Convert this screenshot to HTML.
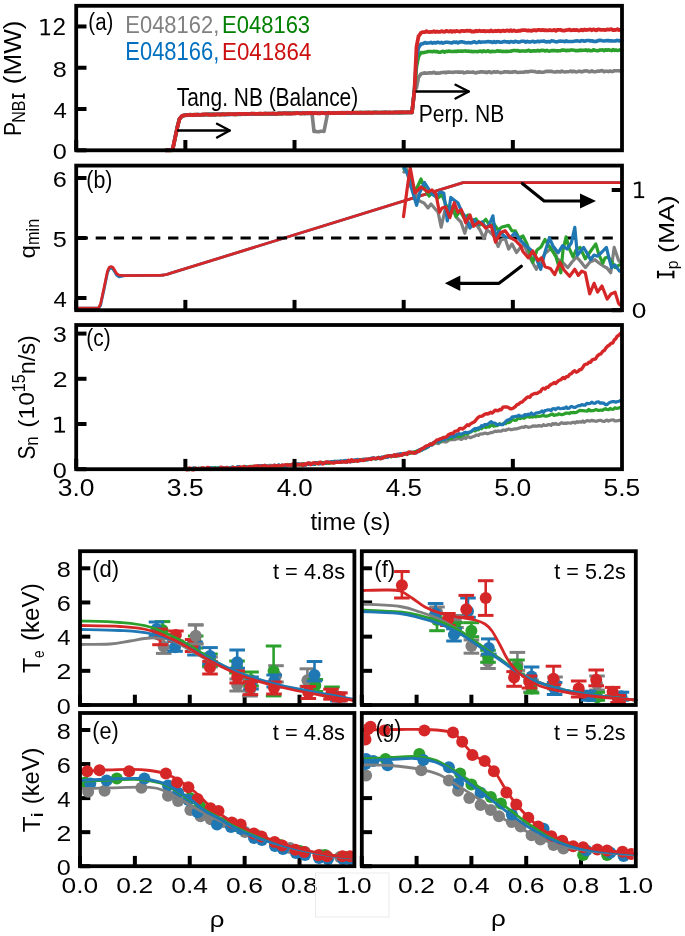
<!DOCTYPE html>
<html><head><meta charset="utf-8"><style>html,body{margin:0;padding:0;background:#fff;overflow:hidden}svg{display:block}text{font-family:"Liberation Sans",sans-serif} .tx{opacity:0.999;will-change:transform}</style></head>
<body><svg width="685" height="936" viewBox="0 0 685 936" font-family='"Liberation Sans", sans-serif'>
<defs><clipPath id="cg"><rect x="363.7" y="715" width="270" height="149"/></clipPath></defs>
<rect width="685" height="936" fill="#fff"/>
<polyline points="166.00,150.19 167.62,150.09 169.25,150.39 170.88,150.04 172.50,150.32 174.00,143.07 175.50,135.73 177.60,126.00 179.50,118.72 182.00,115.96 184.00,115.24 186.00,114.75 187.56,114.92 189.11,115.13 190.67,114.67 192.22,114.70 193.78,114.91 195.33,115.07 196.89,114.81 198.44,114.67 200.00,114.99 201.51,114.41 203.03,114.88 204.54,114.52 206.05,114.41 207.57,114.38 209.08,114.47 210.59,114.76 212.11,114.36 213.62,114.58 215.14,114.59 216.65,114.42 218.16,114.50 219.68,114.19 221.19,114.17 222.70,114.24 224.22,114.51 225.73,114.33 227.24,114.25 228.76,114.39 230.27,114.29 231.78,114.18 233.30,114.46 234.81,114.38 236.32,114.09 237.84,114.27 239.35,114.22 240.86,114.41 242.38,114.31 243.89,114.02 245.41,114.42 246.92,113.88 248.43,114.05 249.95,114.23 251.46,113.85 252.97,114.03 254.49,113.74 256.00,114.10 257.51,114.14 259.03,114.01 260.54,114.17 262.05,113.81 263.57,114.02 265.08,113.94 266.59,113.92 268.11,113.82 269.62,114.03 271.14,114.08 272.65,113.78 274.16,113.87 275.68,113.49 277.19,113.86 278.70,113.80 280.22,113.99 281.73,113.87 283.24,113.53 284.76,113.57 286.27,113.72 287.78,113.32 289.30,113.56 290.81,113.37 292.32,113.32 293.84,113.26 295.35,113.67 296.86,113.27 298.38,113.32 299.89,113.39 301.41,113.66 302.92,113.16 304.43,113.36 305.95,113.41 307.46,113.59 308.97,113.53 310.49,113.54 312.00,113.17 314.00,131.45 315.67,131.42 317.33,131.73 319.00,131.77 320.67,131.29 322.33,131.31 324.00,131.34 325.85,122.09 327.70,113.00 412.00,112.40 412.00,112.40 414.50,90.10 416.50,87.74 418.50,77.45 421.00,73.91 423.00,73.26 425.00,72.87 426.50,73.28 428.01,72.98 429.51,72.78 431.02,72.87 432.52,72.93 434.02,72.23 435.53,73.14 437.03,73.00 438.53,73.09 440.04,72.99 441.54,72.53 443.05,72.52 444.55,72.19 446.05,72.76 447.56,72.11 449.06,72.10 450.56,72.25 452.07,72.18 453.57,72.36 455.08,72.03 456.58,71.96 458.08,72.11 459.59,72.05 461.09,72.32 462.60,71.93 464.10,72.85 465.60,72.55 467.11,72.03 468.61,72.13 470.11,72.22 471.62,72.22 473.12,71.95 474.63,72.73 476.13,72.88 477.63,72.28 479.14,72.29 480.64,71.84 482.15,71.84 483.65,72.09 485.15,71.99 486.66,72.60 488.16,71.85 489.66,71.68 491.17,72.69 492.67,72.21 494.18,71.78 495.68,72.20 497.18,71.62 498.69,72.16 500.19,72.64 501.69,72.50 503.20,72.30 504.70,71.81 506.21,71.91 507.71,71.68 509.21,72.33 510.72,72.05 512.22,72.31 513.73,71.80 515.23,71.67 516.73,72.30 518.24,72.48 519.74,72.32 521.24,72.26 522.75,72.26 524.25,72.16 525.76,71.58 527.26,71.89 528.76,71.69 530.27,71.32 531.77,71.31 533.27,71.57 534.78,71.53 536.28,71.99 537.79,72.27 539.29,71.70 540.79,72.22 542.30,72.27 543.80,72.22 545.31,71.55 546.81,71.38 548.31,71.37 549.82,71.33 551.32,71.32 552.82,71.77 554.33,72.06 555.83,71.98 557.34,71.57 558.84,71.75 560.34,71.89 561.85,71.09 563.35,71.71 564.85,71.97 566.36,71.82 567.86,71.77 569.37,71.46 570.87,71.11 572.37,71.77 573.88,71.26 575.38,71.76 576.89,71.93 578.39,71.28 579.89,71.28 581.40,71.86 582.90,71.60 584.40,70.98 585.91,70.92 587.41,70.93 588.92,71.75 590.42,71.63 591.92,70.89 593.43,71.62 594.93,71.78 596.44,71.41 597.94,71.06 599.44,71.26 600.95,70.79 602.45,70.64 603.95,71.68 605.46,71.32 606.96,71.17 608.47,71.60 609.97,71.04 611.47,71.51 612.98,71.44 614.48,70.75 615.98,70.78 617.49,70.81 618.99,70.74 620.50,71.11 622.00,71.00" fill="none" stroke="#7f7f7f" stroke-width="3.6" stroke-linejoin="round" stroke-linecap="round" />
<polyline points="166.00,150.16 167.62,150.25 169.25,150.08 170.88,150.55 172.50,150.21 174.00,143.12 175.50,136.05 177.60,126.24 179.50,118.95 182.00,116.25 184.00,115.50 186.00,115.02 187.56,114.98 189.11,114.64 190.67,114.86 192.22,114.68 193.78,114.54 195.33,114.98 196.89,114.57 198.44,114.72 200.00,114.84 201.52,114.71 203.03,114.55 204.55,114.64 206.06,114.64 207.58,114.76 209.09,114.33 210.61,114.58 212.12,114.37 213.64,114.36 215.15,114.64 216.67,114.45 218.18,114.46 219.70,114.56 221.21,114.63 222.73,114.33 224.24,114.40 225.76,114.32 227.27,114.30 228.79,114.38 230.30,114.22 231.82,114.24 233.33,114.19 234.85,114.44 236.36,114.27 237.88,114.36 239.39,114.37 240.91,113.94 242.42,114.10 243.94,114.31 245.45,114.22 246.97,113.78 248.48,113.75 250.00,113.92 251.52,113.67 253.03,113.75 254.55,113.63 256.06,113.96 257.58,114.01 259.09,114.05 260.61,113.58 262.12,113.90 263.64,113.84 265.15,113.51 266.67,113.93 268.18,113.96 269.70,113.49 271.21,113.90 272.73,113.55 274.24,113.58 275.76,113.86 277.27,113.74 278.79,113.32 280.30,113.45 281.82,113.48 283.33,113.35 284.85,113.24 286.36,113.30 287.88,113.52 289.39,113.07 290.91,113.37 292.42,113.28 293.94,113.00 295.45,113.17 296.97,113.32 298.48,113.23 300.00,112.94 301.51,113.48 303.03,113.35 304.54,113.45 306.05,112.92 307.57,113.01 309.08,112.86 310.59,113.29 312.11,112.98 313.62,112.88 315.14,113.05 316.65,113.33 318.16,113.26 319.68,112.91 321.19,112.84 322.70,113.29 324.22,113.07 325.73,113.14 327.24,112.76 328.76,112.73 330.27,113.10 331.78,112.93 333.30,112.71 334.81,113.21 336.32,113.02 337.84,113.11 339.35,112.67 340.86,113.12 342.38,112.64 343.89,113.10 345.41,112.85 346.92,112.77 348.43,112.89 349.95,113.10 351.46,112.69 352.97,112.60 354.49,112.83 356.00,112.64 357.51,112.55 359.03,112.58 360.54,112.50 362.05,112.58 363.57,112.63 365.08,112.62 366.59,112.88 368.11,112.59 369.62,112.70 371.14,112.50 372.65,112.59 374.16,112.38 375.68,112.51 377.19,112.36 378.70,112.78 380.22,112.66 381.73,112.43 383.24,112.59 384.76,112.86 386.27,112.35 387.78,112.76 389.30,112.52 390.81,112.55 392.32,112.74 393.84,112.47 395.35,112.52 396.86,112.62 398.38,112.79 399.89,112.39 401.41,112.68 402.92,112.59 404.43,112.54 405.95,112.39 407.46,112.34 408.97,112.15 410.49,112.19 412.00,112.40 414.50,90.26 416.50,66.73 418.50,56.63 421.00,52.54 423.00,52.78 425.00,52.21 426.50,51.97 428.01,51.53 429.51,51.48 431.02,51.52 432.52,51.69 434.02,51.34 435.53,51.64 437.03,51.43 438.53,52.18 440.04,52.18 441.54,51.70 443.05,51.35 444.55,52.13 446.05,51.40 447.56,51.44 449.06,51.03 450.56,51.44 452.07,51.52 453.57,51.54 455.08,51.20 456.58,51.52 458.08,50.95 459.59,51.22 461.09,51.02 462.60,51.35 464.10,50.94 465.60,50.90 467.11,51.20 468.61,51.11 470.11,51.48 471.62,51.41 473.12,51.64 474.63,51.52 476.13,51.57 477.63,51.74 479.14,51.18 480.64,51.10 482.15,51.81 483.65,50.88 485.15,51.50 486.66,51.39 488.16,50.72 489.66,51.58 491.17,51.63 492.67,51.32 494.18,51.43 495.68,51.50 497.18,50.74 498.69,51.15 500.19,51.12 501.69,51.47 503.20,51.42 504.70,51.43 506.21,51.15 507.71,51.48 509.21,51.23 510.72,51.23 512.22,50.71 513.73,50.47 515.23,50.57 516.73,50.81 518.24,50.51 519.74,51.30 521.24,50.98 522.75,51.05 524.25,51.03 525.76,51.08 527.26,50.85 528.76,50.31 530.27,51.17 531.77,51.10 533.27,50.81 534.78,50.84 536.28,50.96 537.79,50.29 539.29,51.02 540.79,50.47 542.30,50.26 543.80,50.46 545.31,50.95 546.81,50.36 548.31,50.94 549.82,51.18 551.32,50.64 552.82,50.50 554.33,50.60 555.83,50.81 557.34,50.88 558.84,50.71 560.34,50.72 561.85,50.08 563.35,50.15 564.85,50.25 566.36,50.78 567.86,50.28 569.37,50.56 570.87,49.93 572.37,49.97 573.88,50.19 575.38,50.62 576.89,50.62 578.39,50.59 579.89,50.15 581.40,50.39 582.90,50.32 584.40,50.31 585.91,49.91 587.41,50.75 588.92,49.97 590.42,50.81 591.92,50.75 593.43,49.73 594.93,50.20 596.44,50.59 597.94,50.73 599.44,50.15 600.95,49.94 602.45,49.86 603.95,50.66 605.46,49.83 606.96,50.23 608.47,49.73 609.97,50.14 611.47,50.59 612.98,49.68 614.48,50.42 615.98,50.06 617.49,50.47 618.99,50.25 620.50,49.72 622.00,50.00" fill="none" stroke="#2ca02c" stroke-width="3.6" stroke-linejoin="round" stroke-linecap="round" />
<polyline points="166.00,150.54 167.62,150.29 169.25,150.01 170.88,150.00 172.50,150.30 174.00,143.12 175.50,135.88 177.60,125.78 179.50,118.91 182.00,115.89 184.00,115.70 186.00,114.70 187.56,115.12 189.11,115.14 190.67,114.67 192.22,115.12 193.78,114.96 195.33,115.04 196.89,114.64 198.44,114.66 200.00,114.64 201.52,114.98 203.03,114.71 204.55,114.55 206.06,114.57 207.58,114.45 209.09,114.29 210.61,114.30 212.12,114.72 213.64,114.37 215.15,114.73 216.67,114.30 218.18,114.29 219.70,114.41 221.21,114.20 222.73,114.28 224.24,114.61 225.76,114.54 227.27,114.48 228.79,114.35 230.30,114.49 231.82,114.49 233.33,114.23 234.85,114.31 236.36,113.88 237.88,114.27 239.39,114.08 240.91,114.24 242.42,114.15 243.94,113.91 245.45,113.75 246.97,114.25 248.48,113.75 250.00,113.93 251.52,113.83 253.03,113.78 254.55,114.03 256.06,114.14 257.58,113.69 259.09,113.91 260.61,113.67 262.12,113.80 263.64,113.68 265.15,113.52 266.67,113.50 268.18,113.50 269.70,113.90 271.21,113.63 272.73,113.44 274.24,113.83 275.76,113.86 277.27,113.51 278.79,113.30 280.30,113.31 281.82,113.23 283.33,113.36 284.85,113.18 286.36,113.25 287.88,113.24 289.39,113.40 290.91,113.57 292.42,113.46 293.94,113.24 295.45,113.22 296.97,113.26 298.48,113.15 300.00,113.10 301.51,112.93 303.03,113.04 304.54,113.45 306.05,112.93 307.57,113.15 309.08,113.21 310.59,113.34 312.11,112.94 313.62,112.97 315.14,112.94 316.65,113.02 318.16,113.04 319.68,113.33 321.19,113.26 322.70,113.26 324.22,112.74 325.73,112.74 327.24,113.13 328.76,113.23 330.27,112.97 331.78,113.03 333.30,112.66 334.81,112.89 336.32,113.20 337.84,113.13 339.35,113.13 340.86,113.19 342.38,112.75 343.89,112.65 345.41,112.67 346.92,112.88 348.43,112.96 349.95,113.11 351.46,112.97 352.97,112.91 354.49,112.97 356.00,112.77 357.51,112.82 359.03,112.50 360.54,112.94 362.05,112.60 363.57,113.00 365.08,112.82 366.59,112.61 368.11,112.49 369.62,112.55 371.14,112.77 372.65,112.80 374.16,112.44 375.68,112.40 377.19,112.66 378.70,112.69 380.22,112.56 381.73,112.45 383.24,112.67 384.76,112.30 386.27,112.46 387.78,112.55 389.30,112.84 390.81,112.64 392.32,112.77 393.84,112.51 395.35,112.36 396.86,112.36 398.38,112.77 399.89,112.61 401.41,112.36 402.92,112.18 404.43,112.45 405.95,112.55 407.46,112.38 408.97,112.28 410.49,112.51 412.00,112.40 414.50,89.70 416.50,57.49 418.50,47.82 421.00,43.91 423.00,43.60 425.00,42.47 426.50,43.11 428.01,43.03 429.51,42.75 431.02,42.41 432.52,43.23 434.02,42.49 435.53,43.03 437.03,42.37 438.53,42.34 440.04,42.92 441.54,42.39 443.05,43.10 444.55,42.58 446.05,42.22 447.56,42.24 449.06,42.44 450.56,42.70 452.07,42.99 453.57,42.09 455.08,42.35 456.58,42.13 458.08,42.95 459.59,42.02 461.09,41.90 462.60,41.90 464.10,42.25 465.60,42.78 467.11,42.75 468.61,42.57 470.11,42.84 471.62,42.75 473.12,42.07 474.63,41.90 476.13,42.71 477.63,42.48 479.14,41.68 480.64,42.36 482.15,42.03 483.65,42.01 485.15,41.94 486.66,41.75 488.16,41.55 489.66,41.84 491.17,41.90 492.67,42.55 494.18,41.61 495.68,42.52 497.18,41.67 498.69,41.82 500.19,42.31 501.69,42.30 503.20,41.85 504.70,41.41 506.21,41.86 507.71,41.74 509.21,42.32 510.72,41.51 512.22,41.68 513.73,42.25 515.23,41.28 516.73,41.68 518.24,42.10 519.74,42.04 521.24,41.22 522.75,41.20 524.25,41.21 525.76,42.14 527.26,41.39 528.76,41.91 530.27,42.06 531.77,41.43 533.27,41.34 534.78,42.08 536.28,41.69 537.79,41.28 539.29,41.76 540.79,41.31 542.30,41.24 543.80,40.93 545.31,41.74 546.81,41.90 548.31,41.57 549.82,41.89 551.32,40.87 552.82,41.08 554.33,41.33 555.83,41.84 557.34,41.82 558.84,41.18 560.34,41.01 561.85,41.19 563.35,41.25 564.85,41.71 566.36,40.87 567.86,41.54 569.37,41.45 570.87,41.53 572.37,41.45 573.88,41.26 575.38,40.93 576.89,40.91 578.39,40.94 579.89,41.38 581.40,40.59 582.90,40.70 584.40,41.30 585.91,40.73 587.41,40.51 588.92,40.46 590.42,41.01 591.92,40.74 593.43,41.45 594.93,41.32 596.44,41.42 597.94,40.61 599.44,40.39 600.95,40.39 602.45,40.82 603.95,41.03 605.46,40.73 606.96,40.48 608.47,40.66 609.97,40.87 611.47,40.91 612.98,40.97 614.48,41.07 615.98,40.85 617.49,40.23 618.99,41.01 620.50,40.39 622.00,40.60" fill="none" stroke="#1f77b4" stroke-width="3.6" stroke-linejoin="round" stroke-linecap="round" />
<polyline points="166.00,150.34 167.62,150.22 169.25,150.44 170.88,150.12 172.50,150.15 174.00,143.00 175.50,135.79 177.60,126.23 179.50,119.05 182.00,115.90 184.00,115.44 186.00,115.30 187.56,114.97 189.11,114.77 190.67,115.09 192.22,114.96 193.78,115.13 195.33,114.56 196.89,114.75 198.44,114.92 200.00,114.90 201.52,114.93 203.03,114.38 204.55,114.51 206.06,114.38 207.58,114.40 209.09,114.85 210.61,114.59 212.12,114.78 213.64,114.42 215.15,114.69 216.67,114.42 218.18,114.28 219.70,114.57 221.21,114.65 222.73,114.12 224.24,114.39 225.76,114.39 227.27,114.12 228.79,114.19 230.30,114.03 231.82,114.05 233.33,114.05 234.85,114.24 236.36,114.25 237.88,113.95 239.39,113.82 240.91,113.98 242.42,114.17 243.94,113.85 245.45,113.91 246.97,113.82 248.48,114.15 250.00,113.98 251.52,113.67 253.03,113.67 254.55,113.82 256.06,113.89 257.58,113.92 259.09,113.57 260.61,113.59 262.12,113.89 263.64,113.69 265.15,113.59 266.67,113.58 268.18,113.95 269.70,113.54 271.21,113.67 272.73,113.52 274.24,113.54 275.76,113.78 277.27,113.84 278.79,113.44 280.30,113.31 281.82,113.61 283.33,113.27 284.85,113.13 286.36,113.65 287.88,113.34 289.39,113.55 290.91,113.28 292.42,113.54 293.94,113.27 295.45,113.07 296.97,112.95 298.48,113.25 300.00,113.28 301.51,113.44 303.03,112.93 304.54,113.24 306.05,113.08 307.57,113.15 309.08,112.92 310.59,112.99 312.11,113.13 313.62,113.36 315.14,112.86 316.65,113.08 318.16,113.25 319.68,113.34 321.19,112.87 322.70,112.81 324.22,113.29 325.73,113.30 327.24,113.00 328.76,112.73 330.27,113.24 331.78,112.91 333.30,113.20 334.81,113.02 336.32,113.14 337.84,112.73 339.35,113.09 340.86,112.74 342.38,112.84 343.89,113.09 345.41,113.07 346.92,112.67 348.43,112.68 349.95,112.78 351.46,112.84 352.97,112.75 354.49,112.58 356.00,112.65 357.51,112.92 359.03,113.02 360.54,112.49 362.05,112.79 363.57,112.90 365.08,112.46 366.59,112.93 368.11,112.48 369.62,112.76 371.14,112.72 372.65,112.76 374.16,112.55 375.68,112.61 377.19,112.70 378.70,112.59 380.22,112.72 381.73,112.58 383.24,112.57 384.76,112.31 386.27,112.66 387.78,112.57 389.30,112.40 390.81,112.71 392.32,112.71 393.84,112.50 395.35,112.33 396.86,112.49 398.38,112.26 399.89,112.26 401.41,112.43 402.92,112.22 404.43,112.42 405.95,112.45 407.46,112.16 408.97,112.50 410.49,112.16 412.00,112.40 414.50,90.31 416.50,46.81 418.50,36.31 421.00,32.80 423.00,32.07 425.00,32.10 426.50,31.18 428.01,31.96 429.51,32.10 431.02,31.79 432.52,31.87 434.02,31.17 435.53,32.02 437.03,31.47 438.53,31.96 440.04,31.90 441.54,31.06 443.05,31.73 444.55,31.88 446.05,30.91 447.56,31.21 449.06,31.64 450.56,30.97 452.07,31.76 453.57,31.06 455.08,31.64 456.58,30.89 458.08,31.27 459.59,31.71 461.09,30.91 462.60,30.96 464.10,31.21 465.60,30.99 467.11,30.66 468.61,30.81 470.11,30.77 471.62,31.61 473.12,31.31 474.63,31.53 476.13,30.72 477.63,31.38 479.14,30.63 480.64,31.07 482.15,31.17 483.65,30.85 485.15,31.40 486.66,31.03 488.16,31.05 489.66,31.36 491.17,30.49 492.67,31.46 494.18,31.04 495.68,30.77 497.18,31.19 498.69,30.59 500.19,31.38 501.69,30.91 503.20,30.65 504.70,31.08 506.21,30.71 507.71,30.40 509.21,31.01 510.72,30.23 512.22,31.07 513.73,30.43 515.23,30.84 516.73,31.20 518.24,30.75 519.74,30.82 521.24,30.42 522.75,30.06 524.25,30.08 525.76,30.19 527.26,30.69 528.76,30.47 530.27,30.55 531.77,30.95 533.27,30.10 534.78,30.19 536.28,30.64 537.79,29.93 539.29,29.89 540.79,30.26 542.30,29.98 543.80,30.24 545.31,30.08 546.81,30.46 548.31,30.45 549.82,30.01 551.32,30.45 552.82,30.27 554.33,29.89 555.83,30.75 557.34,29.97 558.84,29.86 560.34,29.78 561.85,30.36 563.35,30.60 564.85,30.49 566.36,30.06 567.86,29.89 569.37,29.60 570.87,30.28 572.37,30.17 573.88,29.92 575.38,30.23 576.89,30.00 578.39,30.52 579.89,30.28 581.40,29.74 582.90,30.44 584.40,29.48 585.91,30.00 587.41,29.85 588.92,29.65 590.42,29.43 591.92,30.21 593.43,29.35 594.93,29.93 596.44,30.34 597.94,29.45 599.44,29.50 600.95,29.93 602.45,29.81 603.95,29.94 605.46,30.11 606.96,29.39 608.47,29.53 609.97,29.50 611.47,29.21 612.98,30.12 614.48,29.99 615.98,29.90 617.49,29.10 618.99,30.01 620.50,29.88 622.00,29.60" fill="none" stroke="#d62728" stroke-width="3.8" stroke-linejoin="round" stroke-linecap="round" />
<polyline points="78.00,308.20 98.50,308.20 100.50,305.60 104.00,289.60 107.50,272.60 109.30,268.80 111.00,268.20 112.80,268.90 114.50,271.60 116.50,275.10 119.00,276.80 125.00,275.60 150.00,275.40 160.00,275.30 164.00,275.00 167.00,274.30 170.00,273.40 174.00,272.20 463.00,182.60 622.00,182.60" fill="none" stroke="#1f77b4" stroke-width="2.8" stroke-linejoin="round" stroke-linecap="round" />
<polyline points="78.00,308.20 98.50,308.20 100.50,304.00 104.00,288.00 107.50,271.00 109.30,267.20 111.00,266.60 112.80,267.30 114.50,270.00 116.50,273.50 119.00,275.20 125.00,275.60 150.00,275.40 160.00,275.30 164.00,275.00 167.00,274.30 170.00,273.40 174.00,272.20 463.00,182.60 622.00,182.60" fill="none" stroke="#d62728" stroke-width="2.8" stroke-linejoin="round" stroke-linecap="round" />
<line x1="77.60" y1="238.00" x2="620.00" y2="238.00" stroke="#000" stroke-width="3.0" stroke-dasharray="10.3 7.8"/>
<polyline points="404.00,172.00 406.00,168.00 411.40,187.80 415.00,192.00 419.30,200.90 424.00,203.00 428.00,207.90 431.00,204.00 435.00,208.80 438.00,212.00 441.20,227.20 445.00,210.00 449.00,214.00 452.60,210.50 457.00,218.00 461.00,222.00 464.80,233.30 468.00,222.00 472.00,226.00 476.00,224.00 480.00,230.00 484.00,238.60 487.00,230.00 490.00,232.00 494.00,236.00 498.10,246.50 501.00,240.00 505.00,238.00 508.60,249.10 512.00,244.00 516.50,252.60 520.00,248.00 524.00,244.80 530.00,258.00 536.30,269.30 541.00,260.00 545.00,253.50 549.00,250.00 552.90,247.40 557.30,258.80 562.00,262.00 567.80,267.60 572.00,262.00 576.60,257.00 581.00,262.00 585.30,267.60 590.00,262.00 595.00,259.70 599.00,263.00 602.90,265.80 607.00,268.00 610.70,272.80 614.20,247.40 618.60,260.50 620.00,262.00" fill="none" stroke="#7f7f7f" stroke-width="3.2" stroke-linejoin="round" stroke-linecap="round" />
<polyline points="404.00,169.00 408.00,172.00 412.00,185.00 416.00,190.00 421.00,179.00 425.00,189.00 429.00,196.00 433.00,192.00 437.70,198.30 442.00,194.80 446.00,205.00 450.00,210.00 453.00,206.00 456.00,216.70 460.00,211.00 464.00,218.00 468.00,215.00 472.00,221.00 476.00,219.00 480.00,225.00 485.80,219.30 490.00,226.00 494.00,224.00 498.00,230.00 502.00,227.00 508.60,225.40 512.00,231.00 515.30,230.80 519.00,238.00 523.00,236.00 527.00,244.00 532.80,262.30 537.00,250.00 541.00,247.00 545.00,239.50 549.00,246.00 552.90,251.80 556.00,257.00 560.80,272.80 563.00,250.00 566.10,236.90 569.00,248.00 573.10,257.00 576.00,250.00 580.10,247.40 585.30,258.80 590.00,252.00 595.80,243.90 599.00,255.00 602.90,263.20 605.00,258.00 608.10,257.00 612.00,262.00 615.10,267.60 619.50,264.90" fill="none" stroke="#2ca02c" stroke-width="3.2" stroke-linejoin="round" stroke-linecap="round" />
<polyline points="404.00,167.60 408.00,175.00 412.00,190.00 416.60,205.30 420.00,192.00 424.50,182.50 428.00,188.00 432.00,194.00 436.00,197.00 440.00,192.00 443.80,193.00 447.30,221.00 450.80,197.40 454.00,200.00 457.80,202.70 462.00,212.00 466.00,218.00 470.00,228.10 474.00,220.00 478.00,224.00 482.00,222.00 486.00,228.00 489.00,225.00 492.90,215.80 495.50,236.80 499.00,231.00 502.00,234.00 505.10,236.80 510.00,237.80 515.00,233.00 520.00,240.00 525.00,245.00 531.00,250.00 536.00,258.00 540.70,269.30 545.00,252.00 549.40,237.80 553.00,246.00 558.20,252.70 562.60,245.70 567.00,249.00 571.30,243.00 574.80,227.30 577.40,255.30 580.00,252.00 583.60,247.40 587.00,253.00 590.60,259.70 594.00,255.00 597.60,256.20 602.00,252.00 606.40,247.40 609.00,258.00 611.60,267.60 615.00,265.00 619.50,271.10" fill="none" stroke="#1f77b4" stroke-width="3.2" stroke-linejoin="round" stroke-linecap="round" />
<polyline points="403.50,216.70 407.00,190.00 410.20,167.60 412.50,180.00 414.90,193.00 418.00,190.00 421.00,187.00 424.50,189.50 428.00,192.00 432.00,190.00 435.90,193.90 439.40,212.30 442.00,208.00 445.60,207.00 449.90,217.60 454.30,202.70 457.80,212.30 461.30,209.70 465.70,222.80 470.00,214.90 473.60,226.30 478.80,221.90 482.00,224.00 485.80,228.10 491.10,225.40 495.50,242.10 500.70,232.40 505.10,230.70 510.40,237.70 515.30,240.40 520.50,245.70 523.10,251.80 528.40,257.90 532.80,250.90 538.00,260.50 541.50,257.90 545.00,266.70 550.30,268.40 554.70,274.60 559.90,262.30 564.00,270.00 569.60,276.30 574.80,269.30 578.30,275.40 581.80,271.10 585.30,272.80 589.70,293.80 594.10,283.30 597.60,292.10 602.00,286.00 607.20,299.10 611.00,294.00 615.10,292.10 618.60,303.50 620.00,305.00" fill="none" stroke="#d62728" stroke-width="3.2" stroke-linejoin="round" stroke-linecap="round" />
<polyline points="522.30,183.60 544.10,201.00 582.00,201.00" fill="none" stroke="#000" stroke-width="3.2" stroke-linejoin="round" stroke-linecap="round" />
<polygon points="580,193.6 596,201 580,208.5" fill="#000"/>
<polyline points="521.30,266.30 499.00,283.30 458.00,283.30" fill="none" stroke="#000" stroke-width="3.2" stroke-linejoin="round" stroke-linecap="round" />
<polygon points="460.3,275.5 444.9,283.3 460.3,291" fill="#000"/>
<polyline points="186.40,468.94 187.90,469.40 189.41,468.85 190.91,468.40 192.41,468.15 193.92,468.35 195.42,467.96 196.92,468.46 198.43,469.17 199.93,469.04 201.43,469.28 202.94,469.00 204.44,468.16 205.94,468.65 207.45,468.40 208.95,469.00 210.46,468.49 211.96,467.99 213.46,468.63 214.97,469.18 216.47,467.80 217.97,468.96 219.48,467.37 220.98,467.78 222.48,467.70 223.99,468.58 225.49,468.90 226.99,468.51 228.50,467.72 230.00,468.68 231.52,467.62 233.05,467.39 234.57,468.52 236.10,467.95 237.62,467.99 239.14,467.87 240.67,468.36 242.19,467.37 243.71,467.97 245.24,467.64 246.76,467.86 248.29,467.03 249.81,467.48 251.33,467.13 252.86,466.58 254.38,466.34 255.90,467.01 257.43,465.95 258.95,467.38 260.48,465.93 262.00,465.65 263.52,465.72 265.05,467.13 266.57,466.01 268.10,465.57 269.62,465.29 271.14,465.25 272.67,466.35 274.19,466.17 275.71,466.21 277.24,466.21 278.76,464.93 280.29,465.81 281.81,465.33 283.33,466.07 284.86,466.00 286.38,466.06 287.90,464.50 289.43,465.88 290.95,465.89 292.48,465.87 294.00,464.29 295.51,464.36 297.03,464.09 298.54,463.84 300.05,465.19 301.57,465.02 303.08,464.59 304.59,464.83 306.11,464.37 307.62,463.64 309.14,463.20 310.65,463.09 312.16,464.17 313.68,463.06 315.19,463.16 316.70,463.24 318.22,462.41 319.73,462.72 321.24,462.66 322.76,463.33 324.27,462.60 325.78,462.41 327.30,463.46 328.81,462.52 330.32,463.04 331.84,462.51 333.35,461.34 334.86,461.92 336.38,461.86 337.89,462.36 339.41,461.48 340.92,462.02 342.43,461.61 343.95,460.92 345.46,461.98 346.97,460.48 348.49,461.68 350.00,460.41 351.50,459.95 353.00,460.16 354.50,461.02 356.00,461.26 357.50,459.36 359.00,460.08 360.50,459.93 362.00,460.33 363.50,459.08 365.00,459.49 366.50,459.07 368.00,459.80 369.50,458.62 371.00,459.70 372.50,458.36 374.00,458.09 375.50,458.81 377.00,458.30 378.50,457.45 380.00,458.25 381.57,456.98 383.15,457.98 384.72,457.55 386.29,457.45 387.87,456.90 389.44,456.14 391.01,455.96 392.59,455.68 394.16,456.30 395.73,454.59 397.31,455.77 398.88,453.95 400.45,454.00 402.03,453.84 403.60,454.72 405.20,453.75 406.80,453.28 408.40,453.94 410.00,452.52 411.50,452.68 413.00,452.56 414.50,452.71 416.00,452.46 417.50,451.60 419.00,450.39 420.50,449.69 422.00,448.71 423.50,449.28 425.00,448.29 426.72,447.64 428.44,445.81 430.16,445.49 431.88,445.29 433.60,444.14 435.24,442.98 436.88,443.23 438.52,443.64 440.16,442.13 441.80,441.69 443.44,441.54 445.08,441.92 446.72,441.82 448.36,440.23 450.00,439.88 451.56,439.77 453.13,439.64 454.69,439.72 456.25,438.80 457.82,438.83 459.38,438.30 460.95,439.45 462.51,438.73 464.07,437.33 465.64,438.61 467.20,436.78 468.80,436.95 470.40,437.70 472.00,437.02 473.60,436.57 475.20,435.70 476.80,434.93 478.40,435.39 480.00,434.09 481.51,433.96 483.03,433.98 484.54,433.04 486.06,433.39 487.57,433.79 489.09,433.31 490.60,432.65 492.11,432.58 493.63,431.97 495.14,431.08 496.66,431.61 498.17,430.94 499.69,431.24 501.20,431.23 502.71,430.15 504.21,430.19 505.72,430.28 507.23,429.47 508.74,428.90 510.24,429.57 511.75,429.63 513.26,429.22 514.76,428.87 516.27,428.92 517.78,428.39 519.29,428.10 520.79,427.54 522.30,427.06 523.81,427.48 525.33,426.38 526.84,426.81 528.36,427.31 529.87,427.03 531.39,426.73 532.90,425.90 534.41,426.06 535.93,425.97 537.44,426.12 538.96,425.59 540.47,425.92 541.99,426.22 543.50,424.73 545.01,425.42 546.53,425.49 548.04,424.63 549.56,424.65 551.07,425.37 552.59,423.53 554.10,424.28 555.61,423.43 557.13,424.39 558.64,424.52 560.16,423.61 561.67,422.70 563.19,423.39 564.70,423.17 566.21,423.37 567.71,422.88 569.22,422.99 570.73,423.21 572.24,422.53 573.74,422.21 575.25,423.06 576.76,421.61 578.26,422.34 579.77,421.69 581.28,422.24 582.79,420.96 584.29,422.39 585.80,421.14 587.31,420.54 588.83,420.88 590.34,421.05 591.86,420.30 593.37,420.97 594.89,420.91 596.40,421.36 597.91,420.68 599.43,420.46 600.94,420.33 602.46,421.21 603.97,421.51 605.49,420.71 607.00,420.09 608.56,421.11 610.11,420.34 611.67,419.98 613.22,419.80 614.78,420.93 616.33,420.96 617.89,420.61 619.44,420.28 621.00,420.30" fill="none" stroke="#7f7f7f" stroke-width="3.2" stroke-linejoin="round" stroke-linecap="round" />
<polyline points="186.40,469.11 187.90,468.47 189.41,469.77 190.91,468.63 192.41,469.11 193.92,469.40 195.42,469.36 196.92,468.70 198.43,468.35 199.93,468.78 201.43,467.98 202.94,469.22 204.44,468.32 205.94,469.18 207.45,468.10 208.95,468.26 210.46,468.00 211.96,468.28 213.46,467.81 214.97,467.45 216.47,468.71 217.97,467.88 219.48,467.78 220.98,467.85 222.48,468.14 223.99,468.01 225.49,468.35 226.99,468.36 228.50,467.79 230.00,468.77 231.52,468.57 233.05,467.06 234.57,468.38 236.10,468.44 237.62,468.15 239.14,466.92 240.67,468.10 242.19,467.67 243.71,466.48 245.24,466.41 246.76,468.03 248.29,467.42 249.81,466.62 251.33,466.28 252.86,466.29 254.38,466.38 255.90,467.28 257.43,466.44 258.95,466.02 260.48,467.30 262.00,467.03 263.52,465.83 265.05,467.06 266.57,466.48 268.10,466.72 269.62,466.45 271.14,466.78 272.67,466.52 274.19,466.54 275.71,465.31 277.24,466.13 278.76,465.77 280.29,466.08 281.81,465.46 283.33,466.19 284.86,465.53 286.38,464.93 287.90,464.81 289.43,464.57 290.95,465.13 292.48,464.28 294.00,464.94 295.51,464.25 297.03,464.77 298.54,464.67 300.05,464.64 301.57,465.11 303.08,463.46 304.59,464.86 306.11,464.08 307.62,464.14 309.14,464.22 310.65,464.42 312.16,463.48 313.68,463.45 315.19,464.32 316.70,462.61 318.22,463.52 319.73,463.41 321.24,462.21 322.76,463.14 324.27,463.17 325.78,463.51 327.30,462.32 328.81,463.38 330.32,462.42 331.84,462.27 333.35,462.90 334.86,461.24 336.38,462.37 337.89,462.09 339.41,461.47 340.92,462.30 342.43,461.30 343.95,461.39 345.46,461.37 346.97,461.70 348.49,460.59 350.00,460.88 351.50,460.71 353.00,460.80 354.50,461.14 356.00,460.03 357.50,460.84 359.00,459.93 360.50,459.96 362.00,459.39 363.50,459.66 365.00,460.35 366.50,459.63 368.00,459.73 369.50,458.75 371.00,458.57 372.50,458.39 374.00,458.76 375.50,458.69 377.00,458.81 378.50,457.32 380.00,458.40 381.57,458.43 383.15,457.55 384.72,456.39 386.29,456.57 387.87,455.78 389.44,455.84 391.01,456.89 392.59,456.06 394.16,455.88 395.73,455.85 397.31,455.80 398.88,455.00 400.45,454.74 402.03,454.49 403.60,454.35 405.20,453.92 406.80,453.83 408.40,452.73 410.00,453.30 411.50,452.67 413.00,452.97 414.50,451.53 416.00,451.43 417.50,450.50 419.00,451.16 420.50,450.75 422.00,449.61 423.50,448.43 425.00,448.58 426.72,447.52 428.44,446.11 430.16,444.56 431.88,443.64 433.60,442.86 435.24,442.17 436.88,441.88 438.52,441.76 440.16,441.78 441.80,439.70 443.44,440.12 445.08,438.67 446.72,438.31 448.36,439.06 450.00,438.14 451.56,438.40 453.13,437.19 454.69,436.06 456.25,436.38 457.82,436.39 459.38,436.66 460.95,436.38 462.51,435.12 464.07,434.65 465.64,433.74 467.20,434.36 468.80,432.87 470.40,432.05 472.00,431.09 473.60,430.36 475.20,430.87 476.80,429.14 478.40,429.95 480.00,427.66 481.51,428.77 483.03,427.13 484.54,426.63 486.06,427.59 487.57,426.44 489.09,427.02 490.60,425.74 492.11,425.19 493.63,426.19 495.14,425.78 496.66,425.74 498.17,425.21 499.69,423.75 501.20,424.43 502.71,424.12 504.21,423.21 505.72,423.61 507.23,421.93 508.74,422.75 510.24,421.85 511.75,420.12 513.26,419.67 514.76,420.36 516.27,420.20 517.78,418.41 519.29,418.37 520.79,418.67 522.30,417.20 523.81,418.30 525.33,417.48 526.84,416.56 528.36,416.96 529.87,417.18 531.39,416.79 532.90,417.07 534.41,415.96 535.93,416.99 537.44,416.05 538.96,416.41 540.47,416.23 541.99,415.70 543.50,415.49 545.01,416.07 546.53,416.20 548.04,415.76 549.56,415.22 551.07,414.58 552.59,414.01 554.10,415.50 555.61,414.87 557.13,414.94 558.64,413.90 560.16,414.24 561.67,414.76 563.19,414.35 564.70,413.78 566.21,413.03 567.71,413.01 569.22,413.61 570.73,412.46 572.24,412.79 573.74,412.41 575.25,412.71 576.76,412.32 578.26,411.15 579.77,410.42 581.28,410.66 582.79,410.72 584.29,410.78 585.80,410.97 587.31,411.03 588.83,409.43 590.34,410.79 591.86,410.68 593.37,410.70 594.89,410.10 596.40,409.49 597.91,410.46 599.43,410.31 600.94,410.02 602.46,410.36 603.97,409.27 605.49,408.72 607.00,409.50 608.56,409.72 610.11,408.44 611.67,409.22 613.22,409.33 614.78,407.87 616.33,408.33 617.89,408.24 619.44,407.65 621.00,407.50" fill="none" stroke="#2ca02c" stroke-width="3.2" stroke-linejoin="round" stroke-linecap="round" />
<polyline points="186.40,468.41 187.90,468.47 189.41,469.43 190.91,469.48 192.41,468.78 193.92,468.00 195.42,469.41 196.92,469.30 198.43,468.19 199.93,468.85 201.43,469.45 202.94,469.39 204.44,468.63 205.94,468.50 207.45,468.70 208.95,467.86 210.46,467.83 211.96,467.78 213.46,468.78 214.97,468.07 216.47,468.44 217.97,468.08 219.48,468.28 220.98,467.50 222.48,467.26 223.99,469.13 225.49,467.85 226.99,467.28 228.50,468.30 230.00,468.57 231.52,467.24 233.05,468.05 234.57,467.48 236.10,467.75 237.62,466.68 239.14,466.64 240.67,468.48 242.19,468.16 243.71,467.33 245.24,467.42 246.76,466.74 248.29,467.70 249.81,466.92 251.33,467.89 252.86,467.46 254.38,467.49 255.90,467.71 257.43,466.22 258.95,465.72 260.48,465.97 262.00,465.86 263.52,465.60 265.05,465.46 266.57,466.40 268.10,466.96 269.62,466.06 271.14,466.97 272.67,466.82 274.19,465.06 275.71,466.05 277.24,465.58 278.76,464.95 280.29,466.56 281.81,465.09 283.33,465.63 284.86,465.71 286.38,466.27 287.90,465.63 289.43,465.00 290.95,465.04 292.48,464.39 294.00,465.93 295.51,465.88 297.03,464.23 298.54,463.75 300.05,464.08 301.57,464.16 303.08,465.16 304.59,465.05 306.11,464.81 307.62,463.12 309.14,464.49 310.65,464.23 312.16,464.00 313.68,464.57 315.19,462.60 316.70,462.67 318.22,463.78 319.73,464.04 321.24,463.41 322.76,462.54 324.27,463.02 325.78,463.25 327.30,461.83 328.81,462.16 330.32,461.92 331.84,461.55 333.35,462.15 334.86,461.42 336.38,461.45 337.89,461.15 339.41,462.11 340.92,460.67 342.43,461.97 343.95,460.82 345.46,460.40 346.97,462.07 348.49,460.55 350.00,461.87 351.50,461.58 353.00,461.48 354.50,459.83 356.00,460.29 357.50,459.44 359.00,460.96 360.50,460.63 362.00,460.06 363.50,459.55 365.00,459.18 366.50,460.00 368.00,459.16 369.50,459.31 371.00,458.19 372.50,458.19 374.00,457.71 375.50,458.88 377.00,458.41 378.50,457.44 380.00,458.74 381.57,457.27 383.15,457.29 384.72,456.51 386.29,456.48 387.87,457.35 389.44,456.07 391.01,455.47 392.59,455.85 394.16,455.24 395.73,456.14 397.31,454.30 398.88,455.76 400.45,453.65 402.03,455.06 403.60,454.34 405.20,453.17 406.80,453.45 408.40,452.82 410.00,452.52 411.50,452.15 413.00,452.23 414.50,453.23 416.00,453.00 417.50,452.18 419.00,449.86 420.50,449.58 422.00,450.13 423.50,447.78 425.00,448.45 426.72,446.59 428.44,446.96 430.16,444.03 431.88,444.61 433.60,442.68 435.24,441.68 436.88,440.80 438.52,441.86 440.16,440.65 441.80,439.37 443.44,439.27 445.08,439.62 446.72,437.64 448.36,437.74 450.00,436.28 451.56,435.95 453.13,436.72 454.69,436.20 456.25,434.76 457.82,434.11 459.38,433.72 460.95,434.35 462.51,433.72 464.07,432.87 465.64,432.32 467.20,432.72 468.80,432.28 470.40,431.85 472.00,430.75 473.60,429.35 475.20,428.44 476.80,429.14 478.40,427.85 480.00,427.84 481.50,425.66 483.00,426.32 484.50,424.52 486.00,424.68 487.68,424.25 489.35,423.04 491.02,421.61 492.70,422.92 494.85,423.00 497.00,424.74 499.10,424.18 501.20,424.67 503.13,424.53 505.07,422.17 507.00,420.33 508.73,419.69 510.45,419.09 512.17,416.86 513.90,416.84 515.48,416.42 517.07,416.30 518.65,415.24 520.23,416.16 521.82,416.10 523.40,415.93 524.98,414.58 526.57,415.09 528.15,414.16 529.73,414.64 531.32,412.99 532.90,414.35 534.41,414.21 535.93,412.99 537.44,412.73 538.96,412.46 540.47,412.17 541.99,410.84 543.50,412.43 545.01,410.65 546.53,410.26 548.04,409.81 549.56,409.80 551.07,410.63 552.59,408.76 554.10,408.59 555.61,409.58 557.13,408.36 558.64,407.79 560.16,408.74 561.67,408.48 563.19,408.16 564.70,408.31 566.21,407.02 567.73,408.47 569.24,408.08 570.76,406.65 572.27,406.72 573.79,407.37 575.30,407.30 576.94,406.38 578.59,405.59 580.23,405.68 581.88,404.66 583.52,405.09 585.17,405.16 586.81,403.25 588.46,403.62 590.10,403.49 591.78,402.13 593.46,403.25 595.14,403.28 596.82,401.98 598.50,401.84 600.20,403.10 601.90,402.89 603.60,403.05 605.30,404.56 607.00,404.65 608.67,403.08 610.33,402.18 612.00,401.67 613.87,401.50 615.73,402.23 617.60,401.51 619.30,401.28 621.00,400.00" fill="none" stroke="#1f77b4" stroke-width="3.2" stroke-linejoin="round" stroke-linecap="round" />
<polyline points="186.40,469.69 187.90,469.73 189.41,467.95 190.91,468.93 192.41,469.87 193.92,469.78 195.42,468.24 196.92,468.59 198.43,469.02 199.93,468.39 201.43,468.72 202.94,467.67 204.44,468.44 205.94,468.56 207.45,467.46 208.95,467.69 210.46,469.48 211.96,469.02 213.46,469.34 214.97,468.64 216.47,468.99 217.97,469.12 219.48,469.09 220.98,467.18 222.48,468.48 223.99,467.62 225.49,468.50 226.99,467.57 228.50,468.13 230.00,468.93 231.52,468.20 233.05,467.31 234.57,467.83 236.10,467.57 237.62,468.63 239.14,467.10 240.67,467.07 242.19,467.75 243.71,466.52 245.24,467.49 246.76,468.22 248.29,467.17 249.81,466.56 251.33,466.93 252.86,467.00 254.38,466.08 255.90,465.96 257.43,465.90 258.95,466.19 260.48,466.37 262.00,466.03 263.52,465.86 265.05,465.45 266.57,466.39 268.10,466.96 269.62,466.38 271.14,466.23 272.67,466.33 274.19,465.27 275.71,466.32 277.24,465.70 278.76,465.82 280.29,465.89 281.81,465.50 283.33,465.08 284.86,464.86 286.38,464.74 287.90,465.31 289.43,464.96 290.95,465.33 292.48,464.00 294.00,464.68 295.51,465.69 297.03,464.21 298.54,464.80 300.05,464.55 301.57,463.99 303.08,465.42 304.59,463.79 306.11,464.73 307.62,463.28 309.14,462.97 310.65,464.63 312.16,463.57 313.68,462.63 315.19,463.24 316.70,463.25 318.22,463.79 319.73,462.30 321.24,462.45 322.76,463.96 324.27,463.36 325.78,461.97 327.30,462.26 328.81,462.19 330.32,462.79 331.84,462.55 333.35,462.96 334.86,462.79 336.38,462.01 337.89,462.39 339.41,462.29 340.92,462.22 342.43,461.49 343.95,462.06 345.46,461.78 346.97,462.13 348.49,460.29 350.00,461.82 351.50,459.76 353.00,461.28 354.50,460.74 356.00,460.40 357.50,461.27 359.00,460.26 360.50,459.77 362.00,460.42 363.50,460.47 365.00,459.74 366.50,459.09 368.00,459.10 369.50,458.96 371.00,459.39 372.50,458.29 374.00,458.36 375.50,458.57 377.00,458.05 378.50,457.76 380.00,458.63 381.57,458.50 383.15,457.47 384.72,457.08 386.29,456.24 387.87,456.24 389.44,455.62 391.01,456.30 392.59,456.05 394.16,454.69 395.73,456.26 397.31,454.68 398.88,455.56 400.45,455.28 402.03,455.28 403.60,453.35 405.20,453.59 406.80,454.40 408.40,452.17 410.00,452.00 411.50,452.89 413.00,452.49 414.50,453.17 416.00,452.60 417.50,451.25 419.00,451.43 420.50,449.54 422.00,448.70 423.50,448.24 425.00,446.76 426.72,445.79 428.44,445.41 430.16,443.97 431.88,444.39 433.60,442.89 435.24,441.71 436.88,439.92 438.52,439.67 440.16,438.88 441.80,438.38 443.44,437.56 445.08,437.39 446.72,436.72 448.36,434.82 450.00,433.87 451.56,433.52 453.13,433.58 454.69,431.39 456.25,431.05 457.82,430.92 459.38,428.75 460.95,428.32 462.51,429.02 464.07,427.93 465.64,426.48 467.20,424.84 468.80,425.46 470.40,423.89 472.00,423.07 473.60,422.33 475.20,420.99 476.80,418.85 478.40,417.16 480.00,416.34 481.50,416.23 483.00,415.61 484.50,414.31 486.00,413.70 487.50,414.09 489.00,413.43 490.50,412.28 492.00,413.09 493.53,411.87 495.07,410.13 496.60,410.51 498.13,410.90 499.67,409.41 501.20,409.82 502.97,407.24 504.73,406.84 506.50,406.95 508.27,407.46 510.03,408.70 511.80,408.73 513.55,407.98 515.30,406.68 517.05,404.64 518.80,404.06 520.55,402.39 522.30,401.99 523.81,400.24 525.33,399.05 526.84,397.58 528.36,396.83 529.87,397.33 531.39,395.06 532.90,394.22 534.41,393.55 535.93,393.49 537.44,393.33 538.96,392.03 540.47,391.63 541.99,389.17 543.50,388.23 545.01,389.06 546.53,387.24 548.04,387.27 549.56,385.64 551.07,384.39 552.59,383.77 554.10,382.57 555.61,383.50 557.13,381.96 558.64,380.61 560.16,380.00 561.67,379.02 563.19,377.46 564.70,378.46 566.38,376.72 568.06,376.49 569.74,374.29 571.42,373.62 573.10,371.75 574.70,370.77 576.30,372.20 577.90,371.51 579.50,369.79 581.08,369.50 582.65,367.74 584.22,365.04 585.80,364.13 587.40,364.03 589.00,362.12 590.60,362.24 592.20,359.80 593.80,359.24 595.40,359.08 597.25,356.14 599.10,354.48 600.95,353.88 602.80,351.17 604.48,350.36 606.16,347.68 607.84,346.04 609.52,344.97 611.20,343.11 612.70,343.14 614.20,339.94 615.70,338.84 617.20,336.15 618.70,335.37 621.00,333.00" fill="none" stroke="#d62728" stroke-width="3.4" stroke-linejoin="round" stroke-linecap="round" />
<rect x="76.2" y="5.8" width="545.80" height="144.50" fill="none" stroke="#000" stroke-width="3.8"/>
<line x1="185.36" y1="150.30" x2="185.36" y2="140.00" stroke="#000" stroke-width="4.0" />
<line x1="294.52" y1="150.30" x2="294.52" y2="140.00" stroke="#000" stroke-width="4.0" />
<line x1="403.68" y1="150.30" x2="403.68" y2="140.00" stroke="#000" stroke-width="4.0" />
<line x1="512.84" y1="150.30" x2="512.84" y2="140.00" stroke="#000" stroke-width="4.0" />
<line x1="76.20" y1="150.30" x2="76.20" y2="140.00" stroke="#000" stroke-width="4.0" />
<rect x="76.2" y="165.6" width="545.80" height="144.60" fill="none" stroke="#000" stroke-width="3.8"/>
<line x1="185.36" y1="310.20" x2="185.36" y2="299.90" stroke="#000" stroke-width="4.0" />
<line x1="294.52" y1="310.20" x2="294.52" y2="299.90" stroke="#000" stroke-width="4.0" />
<line x1="403.68" y1="310.20" x2="403.68" y2="299.90" stroke="#000" stroke-width="4.0" />
<line x1="512.84" y1="310.20" x2="512.84" y2="299.90" stroke="#000" stroke-width="4.0" />
<line x1="76.20" y1="310.20" x2="76.20" y2="299.90" stroke="#000" stroke-width="4.0" />
<rect x="76.2" y="325.0" width="545.80" height="144.20" fill="none" stroke="#000" stroke-width="3.8"/>
<line x1="185.36" y1="469.20" x2="185.36" y2="458.90" stroke="#000" stroke-width="4.0" />
<line x1="294.52" y1="469.20" x2="294.52" y2="458.90" stroke="#000" stroke-width="4.0" />
<line x1="403.68" y1="469.20" x2="403.68" y2="458.90" stroke="#000" stroke-width="4.0" />
<line x1="512.84" y1="469.20" x2="512.84" y2="458.90" stroke="#000" stroke-width="4.0" />
<line x1="76.20" y1="469.20" x2="76.20" y2="458.90" stroke="#000" stroke-width="4.0" />
<line x1="76.20" y1="150.30" x2="86.50" y2="150.30" stroke="#000" stroke-width="4.0" />
<line x1="76.20" y1="109.02" x2="86.50" y2="109.02" stroke="#000" stroke-width="4.0" />
<line x1="76.20" y1="67.74" x2="86.50" y2="67.74" stroke="#000" stroke-width="4.0" />
<line x1="76.20" y1="26.46" x2="86.50" y2="26.46" stroke="#000" stroke-width="4.0" />
<line x1="76.20" y1="298.00" x2="86.50" y2="298.00" stroke="#000" stroke-width="4.0" />
<line x1="76.20" y1="238.00" x2="86.50" y2="238.00" stroke="#000" stroke-width="4.0" />
<line x1="76.20" y1="178.00" x2="86.50" y2="178.00" stroke="#000" stroke-width="4.0" />
<line x1="622.00" y1="310.20" x2="611.70" y2="310.20" stroke="#000" stroke-width="4.0" />
<line x1="622.00" y1="190.00" x2="611.70" y2="190.00" stroke="#000" stroke-width="4.0" />
<line x1="76.20" y1="469.20" x2="86.50" y2="469.20" stroke="#000" stroke-width="4.0" />
<line x1="76.20" y1="424.00" x2="86.50" y2="424.00" stroke="#000" stroke-width="4.0" />
<line x1="76.20" y1="378.80" x2="86.50" y2="378.80" stroke="#000" stroke-width="4.0" />
<line x1="76.20" y1="333.60" x2="86.50" y2="333.60" stroke="#000" stroke-width="4.0" />
<polyline points="178.20,130.50 229.50,130.50" fill="none" stroke="#000" stroke-width="2.4" stroke-linejoin="round" stroke-linecap="round" />
<polyline points="217.00,123.80 229.80,130.50 217.00,137.50" fill="none" stroke="#000" stroke-width="2.4" stroke-linejoin="round" stroke-linecap="round" stroke-linejoin="miter"/>
<polyline points="416.60,91.50 468.50,91.50" fill="none" stroke="#000" stroke-width="2.4" stroke-linejoin="round" stroke-linecap="round" />
<polyline points="455.50,84.70 468.80,91.50 455.50,98.50" fill="none" stroke="#000" stroke-width="2.4" stroke-linejoin="round" stroke-linecap="round" />
<line x1="80.00" y1="705.00" x2="80.00" y2="694.70" stroke="#000" stroke-width="4.0" />
<line x1="134.88" y1="705.00" x2="134.88" y2="694.70" stroke="#000" stroke-width="4.0" />
<line x1="189.76" y1="705.00" x2="189.76" y2="694.70" stroke="#000" stroke-width="4.0" />
<line x1="244.64" y1="705.00" x2="244.64" y2="694.70" stroke="#000" stroke-width="4.0" />
<line x1="299.52" y1="705.00" x2="299.52" y2="694.70" stroke="#000" stroke-width="4.0" />
<line x1="80.00" y1="705.00" x2="90.30" y2="705.00" stroke="#000" stroke-width="4.0" />
<line x1="80.00" y1="670.82" x2="90.30" y2="670.82" stroke="#000" stroke-width="4.0" />
<line x1="80.00" y1="636.64" x2="90.30" y2="636.64" stroke="#000" stroke-width="4.0" />
<line x1="80.00" y1="602.47" x2="90.30" y2="602.47" stroke="#000" stroke-width="4.0" />
<line x1="80.00" y1="568.29" x2="90.30" y2="568.29" stroke="#000" stroke-width="4.0" />
<line x1="80.00" y1="866.20" x2="80.00" y2="855.90" stroke="#000" stroke-width="4.0" />
<line x1="134.88" y1="866.20" x2="134.88" y2="855.90" stroke="#000" stroke-width="4.0" />
<line x1="189.76" y1="866.20" x2="189.76" y2="855.90" stroke="#000" stroke-width="4.0" />
<line x1="244.64" y1="866.20" x2="244.64" y2="855.90" stroke="#000" stroke-width="4.0" />
<line x1="299.52" y1="866.20" x2="299.52" y2="855.90" stroke="#000" stroke-width="4.0" />
<line x1="80.00" y1="866.20" x2="90.30" y2="866.20" stroke="#000" stroke-width="4.0" />
<line x1="80.00" y1="832.16" x2="90.30" y2="832.16" stroke="#000" stroke-width="4.0" />
<line x1="80.00" y1="798.11" x2="90.30" y2="798.11" stroke="#000" stroke-width="4.0" />
<line x1="80.00" y1="764.07" x2="90.30" y2="764.07" stroke="#000" stroke-width="4.0" />
<line x1="80.00" y1="730.02" x2="90.30" y2="730.02" stroke="#000" stroke-width="4.0" />
<line x1="361.80" y1="705.00" x2="361.80" y2="694.70" stroke="#000" stroke-width="4.0" />
<line x1="416.60" y1="705.00" x2="416.60" y2="694.70" stroke="#000" stroke-width="4.0" />
<line x1="471.40" y1="705.00" x2="471.40" y2="694.70" stroke="#000" stroke-width="4.0" />
<line x1="526.20" y1="705.00" x2="526.20" y2="694.70" stroke="#000" stroke-width="4.0" />
<line x1="581.00" y1="705.00" x2="581.00" y2="694.70" stroke="#000" stroke-width="4.0" />
<line x1="361.80" y1="705.00" x2="372.10" y2="705.00" stroke="#000" stroke-width="4.0" />
<line x1="361.80" y1="670.82" x2="372.10" y2="670.82" stroke="#000" stroke-width="4.0" />
<line x1="361.80" y1="636.64" x2="372.10" y2="636.64" stroke="#000" stroke-width="4.0" />
<line x1="361.80" y1="602.47" x2="372.10" y2="602.47" stroke="#000" stroke-width="4.0" />
<line x1="361.80" y1="568.29" x2="372.10" y2="568.29" stroke="#000" stroke-width="4.0" />
<line x1="361.80" y1="866.20" x2="361.80" y2="855.90" stroke="#000" stroke-width="4.0" />
<line x1="416.60" y1="866.20" x2="416.60" y2="855.90" stroke="#000" stroke-width="4.0" />
<line x1="471.40" y1="866.20" x2="471.40" y2="855.90" stroke="#000" stroke-width="4.0" />
<line x1="526.20" y1="866.20" x2="526.20" y2="855.90" stroke="#000" stroke-width="4.0" />
<line x1="581.00" y1="866.20" x2="581.00" y2="855.90" stroke="#000" stroke-width="4.0" />
<line x1="361.80" y1="866.20" x2="372.10" y2="866.20" stroke="#000" stroke-width="4.0" />
<line x1="361.80" y1="832.16" x2="372.10" y2="832.16" stroke="#000" stroke-width="4.0" />
<line x1="361.80" y1="798.11" x2="372.10" y2="798.11" stroke="#000" stroke-width="4.0" />
<line x1="361.80" y1="764.07" x2="372.10" y2="764.07" stroke="#000" stroke-width="4.0" />
<line x1="361.80" y1="730.02" x2="372.10" y2="730.02" stroke="#000" stroke-width="4.0" />
<line x1="163.70" y1="634.40" x2="163.70" y2="653.40" stroke="#7f7f7f" stroke-width="2.6" />
<line x1="155.90" y1="634.40" x2="171.50" y2="634.40" stroke="#7f7f7f" stroke-width="3.0" />
<line x1="155.90" y1="653.40" x2="171.50" y2="653.40" stroke="#7f7f7f" stroke-width="3.0" />
<circle cx="163.7" cy="646.4" r="6.0" fill="#7f7f7f"/>
<line x1="195.70" y1="624.90" x2="195.70" y2="643.90" stroke="#7f7f7f" stroke-width="2.6" />
<line x1="187.90" y1="624.90" x2="203.50" y2="624.90" stroke="#7f7f7f" stroke-width="3.0" />
<line x1="187.90" y1="643.90" x2="203.50" y2="643.90" stroke="#7f7f7f" stroke-width="3.0" />
<circle cx="195.7" cy="635.9" r="6.0" fill="#7f7f7f"/>
<line x1="210.00" y1="657.00" x2="210.00" y2="667.00" stroke="#7f7f7f" stroke-width="2.6" />
<line x1="202.20" y1="657.00" x2="217.80" y2="657.00" stroke="#7f7f7f" stroke-width="3.0" />
<line x1="202.20" y1="667.00" x2="217.80" y2="667.00" stroke="#7f7f7f" stroke-width="3.0" />
<circle cx="210.0" cy="662.0" r="6.0" fill="#7f7f7f"/>
<line x1="237.20" y1="679.00" x2="237.20" y2="691.00" stroke="#7f7f7f" stroke-width="2.6" />
<line x1="229.40" y1="679.00" x2="245.00" y2="679.00" stroke="#7f7f7f" stroke-width="3.0" />
<line x1="229.40" y1="691.00" x2="245.00" y2="691.00" stroke="#7f7f7f" stroke-width="3.0" />
<circle cx="237.2" cy="685.0" r="6.0" fill="#7f7f7f"/>
<line x1="250.00" y1="684.00" x2="250.00" y2="696.00" stroke="#7f7f7f" stroke-width="2.6" />
<line x1="242.20" y1="684.00" x2="257.80" y2="684.00" stroke="#7f7f7f" stroke-width="3.0" />
<line x1="242.20" y1="696.00" x2="257.80" y2="696.00" stroke="#7f7f7f" stroke-width="3.0" />
<circle cx="250.0" cy="690.0" r="6.0" fill="#7f7f7f"/>
<line x1="276.00" y1="665.70" x2="276.00" y2="682.00" stroke="#7f7f7f" stroke-width="2.6" />
<line x1="268.20" y1="665.70" x2="283.80" y2="665.70" stroke="#7f7f7f" stroke-width="3.0" />
<line x1="268.20" y1="682.00" x2="283.80" y2="682.00" stroke="#7f7f7f" stroke-width="3.0" />
<circle cx="276.0" cy="676.0" r="6.0" fill="#7f7f7f"/>
<line x1="307.40" y1="668.80" x2="307.40" y2="686.20" stroke="#7f7f7f" stroke-width="2.6" />
<line x1="299.60" y1="668.80" x2="315.20" y2="668.80" stroke="#7f7f7f" stroke-width="3.0" />
<line x1="299.60" y1="686.20" x2="315.20" y2="686.20" stroke="#7f7f7f" stroke-width="3.0" />
<circle cx="307.4" cy="680.2" r="6.0" fill="#7f7f7f"/>
<line x1="162.50" y1="621.60" x2="162.50" y2="638.00" stroke="#2ca02c" stroke-width="2.6" />
<line x1="154.70" y1="621.60" x2="170.30" y2="621.60" stroke="#2ca02c" stroke-width="3.0" />
<line x1="154.70" y1="638.00" x2="170.30" y2="638.00" stroke="#2ca02c" stroke-width="3.0" />
<circle cx="162.5" cy="630.0" r="6.0" fill="#2ca02c"/>
<line x1="195.70" y1="636.00" x2="195.70" y2="648.00" stroke="#2ca02c" stroke-width="2.6" />
<line x1="187.90" y1="636.00" x2="203.50" y2="636.00" stroke="#2ca02c" stroke-width="3.0" />
<line x1="187.90" y1="648.00" x2="203.50" y2="648.00" stroke="#2ca02c" stroke-width="3.0" />
<circle cx="195.7" cy="642.0" r="6.0" fill="#2ca02c"/>
<line x1="210.00" y1="654.00" x2="210.00" y2="666.00" stroke="#2ca02c" stroke-width="2.6" />
<line x1="202.20" y1="654.00" x2="217.80" y2="654.00" stroke="#2ca02c" stroke-width="3.0" />
<line x1="202.20" y1="666.00" x2="217.80" y2="666.00" stroke="#2ca02c" stroke-width="3.0" />
<circle cx="210.0" cy="660.0" r="6.0" fill="#2ca02c"/>
<line x1="237.00" y1="661.00" x2="237.00" y2="673.00" stroke="#2ca02c" stroke-width="2.6" />
<line x1="229.20" y1="661.00" x2="244.80" y2="661.00" stroke="#2ca02c" stroke-width="3.0" />
<line x1="229.20" y1="673.00" x2="244.80" y2="673.00" stroke="#2ca02c" stroke-width="3.0" />
<circle cx="237.0" cy="667.0" r="6.0" fill="#2ca02c"/>
<line x1="251.00" y1="672.00" x2="251.00" y2="686.00" stroke="#2ca02c" stroke-width="2.6" />
<line x1="243.20" y1="672.00" x2="258.80" y2="672.00" stroke="#2ca02c" stroke-width="3.0" />
<line x1="243.20" y1="686.00" x2="258.80" y2="686.00" stroke="#2ca02c" stroke-width="3.0" />
<circle cx="251.0" cy="680.0" r="6.0" fill="#2ca02c"/>
<line x1="273.60" y1="646.00" x2="273.60" y2="695.90" stroke="#2ca02c" stroke-width="2.6" />
<line x1="265.80" y1="646.00" x2="281.40" y2="646.00" stroke="#2ca02c" stroke-width="3.0" />
<line x1="265.80" y1="695.90" x2="281.40" y2="695.90" stroke="#2ca02c" stroke-width="3.0" />
<circle cx="273.6" cy="670.9" r="6.0" fill="#2ca02c"/>
<line x1="315.30" y1="679.50" x2="315.30" y2="691.50" stroke="#2ca02c" stroke-width="2.6" />
<line x1="307.50" y1="679.50" x2="323.10" y2="679.50" stroke="#2ca02c" stroke-width="3.0" />
<line x1="307.50" y1="691.50" x2="323.10" y2="691.50" stroke="#2ca02c" stroke-width="3.0" />
<circle cx="315.3" cy="685.5" r="6.0" fill="#2ca02c"/>
<line x1="332.00" y1="687.00" x2="332.00" y2="697.00" stroke="#2ca02c" stroke-width="2.6" />
<line x1="324.20" y1="687.00" x2="339.80" y2="687.00" stroke="#2ca02c" stroke-width="3.0" />
<line x1="324.20" y1="697.00" x2="339.80" y2="697.00" stroke="#2ca02c" stroke-width="3.0" />
<circle cx="332.0" cy="692.0" r="6.0" fill="#2ca02c"/>
<line x1="156.50" y1="622.00" x2="156.50" y2="636.00" stroke="#1f77b4" stroke-width="2.6" />
<line x1="148.70" y1="622.00" x2="164.30" y2="622.00" stroke="#1f77b4" stroke-width="3.0" />
<line x1="148.70" y1="636.00" x2="164.30" y2="636.00" stroke="#1f77b4" stroke-width="3.0" />
<circle cx="156.5" cy="629.0" r="6.0" fill="#1f77b4"/>
<line x1="175.00" y1="641.30" x2="175.00" y2="651.30" stroke="#1f77b4" stroke-width="2.6" />
<line x1="167.20" y1="641.30" x2="182.80" y2="641.30" stroke="#1f77b4" stroke-width="3.0" />
<line x1="167.20" y1="651.30" x2="182.80" y2="651.30" stroke="#1f77b4" stroke-width="3.0" />
<circle cx="175.0" cy="647.3" r="6.0" fill="#1f77b4"/>
<line x1="195.00" y1="642.00" x2="195.00" y2="655.00" stroke="#1f77b4" stroke-width="2.6" />
<line x1="187.20" y1="642.00" x2="202.80" y2="642.00" stroke="#1f77b4" stroke-width="3.0" />
<line x1="187.20" y1="655.00" x2="202.80" y2="655.00" stroke="#1f77b4" stroke-width="3.0" />
<circle cx="195.0" cy="648.0" r="6.0" fill="#1f77b4"/>
<line x1="210.00" y1="647.60" x2="210.00" y2="664.00" stroke="#1f77b4" stroke-width="2.6" />
<line x1="202.20" y1="647.60" x2="217.80" y2="647.60" stroke="#1f77b4" stroke-width="3.0" />
<line x1="202.20" y1="664.00" x2="217.80" y2="664.00" stroke="#1f77b4" stroke-width="3.0" />
<circle cx="210.0" cy="656.0" r="6.0" fill="#1f77b4"/>
<line x1="237.20" y1="650.00" x2="237.20" y2="668.20" stroke="#1f77b4" stroke-width="2.6" />
<line x1="229.40" y1="650.00" x2="245.00" y2="650.00" stroke="#1f77b4" stroke-width="3.0" />
<line x1="229.40" y1="668.20" x2="245.00" y2="668.20" stroke="#1f77b4" stroke-width="3.0" />
<circle cx="237.2" cy="662.2" r="6.0" fill="#1f77b4"/>
<line x1="251.00" y1="677.00" x2="251.00" y2="689.00" stroke="#1f77b4" stroke-width="2.6" />
<line x1="243.20" y1="677.00" x2="258.80" y2="677.00" stroke="#1f77b4" stroke-width="3.0" />
<line x1="243.20" y1="689.00" x2="258.80" y2="689.00" stroke="#1f77b4" stroke-width="3.0" />
<circle cx="251.0" cy="683.0" r="6.0" fill="#1f77b4"/>
<line x1="274.20" y1="675.00" x2="274.20" y2="687.00" stroke="#1f77b4" stroke-width="2.6" />
<line x1="266.40" y1="675.00" x2="282.00" y2="675.00" stroke="#1f77b4" stroke-width="3.0" />
<line x1="266.40" y1="687.00" x2="282.00" y2="687.00" stroke="#1f77b4" stroke-width="3.0" />
<circle cx="274.2" cy="681.0" r="6.0" fill="#1f77b4"/>
<line x1="314.50" y1="661.50" x2="314.50" y2="681.00" stroke="#1f77b4" stroke-width="2.6" />
<line x1="306.70" y1="661.50" x2="322.30" y2="661.50" stroke="#1f77b4" stroke-width="3.0" />
<line x1="306.70" y1="681.00" x2="322.30" y2="681.00" stroke="#1f77b4" stroke-width="3.0" />
<circle cx="314.5" cy="675.0" r="6.0" fill="#1f77b4"/>
<line x1="338.00" y1="693.00" x2="338.00" y2="701.00" stroke="#1f77b4" stroke-width="2.6" />
<line x1="330.20" y1="693.00" x2="345.80" y2="693.00" stroke="#1f77b4" stroke-width="3.0" />
<line x1="330.20" y1="701.00" x2="345.80" y2="701.00" stroke="#1f77b4" stroke-width="3.0" />
<circle cx="338.0" cy="697.0" r="6.0" fill="#1f77b4"/>
<line x1="160.00" y1="629.00" x2="160.00" y2="644.70" stroke="#d62728" stroke-width="2.6" />
<line x1="152.20" y1="629.00" x2="167.80" y2="629.00" stroke="#d62728" stroke-width="3.0" />
<line x1="152.20" y1="644.70" x2="167.80" y2="644.70" stroke="#d62728" stroke-width="3.0" />
<circle cx="160.0" cy="635.0" r="6.0" fill="#d62728"/>
<line x1="175.90" y1="631.00" x2="175.90" y2="641.00" stroke="#d62728" stroke-width="2.6" />
<line x1="168.10" y1="631.00" x2="183.70" y2="631.00" stroke="#d62728" stroke-width="3.0" />
<line x1="168.10" y1="641.00" x2="183.70" y2="641.00" stroke="#d62728" stroke-width="3.0" />
<circle cx="175.9" cy="635.0" r="6.0" fill="#d62728"/>
<line x1="192.60" y1="639.50" x2="192.60" y2="651.50" stroke="#d62728" stroke-width="2.6" />
<line x1="184.80" y1="639.50" x2="200.40" y2="639.50" stroke="#d62728" stroke-width="3.0" />
<line x1="184.80" y1="651.50" x2="200.40" y2="651.50" stroke="#d62728" stroke-width="3.0" />
<circle cx="192.6" cy="645.5" r="6.0" fill="#d62728"/>
<line x1="210.00" y1="661.40" x2="210.00" y2="674.00" stroke="#d62728" stroke-width="2.6" />
<line x1="202.20" y1="661.40" x2="217.80" y2="661.40" stroke="#d62728" stroke-width="3.0" />
<line x1="202.20" y1="674.00" x2="217.80" y2="674.00" stroke="#d62728" stroke-width="3.0" />
<circle cx="210.0" cy="667.4" r="6.0" fill="#d62728"/>
<line x1="237.20" y1="671.00" x2="237.20" y2="683.00" stroke="#d62728" stroke-width="2.6" />
<line x1="229.40" y1="671.00" x2="245.00" y2="671.00" stroke="#d62728" stroke-width="3.0" />
<line x1="229.40" y1="683.00" x2="245.00" y2="683.00" stroke="#d62728" stroke-width="3.0" />
<circle cx="237.2" cy="677.0" r="6.0" fill="#d62728"/>
<line x1="250.40" y1="681.60" x2="250.40" y2="694.60" stroke="#d62728" stroke-width="2.6" />
<line x1="242.60" y1="681.60" x2="258.20" y2="681.60" stroke="#d62728" stroke-width="3.0" />
<line x1="242.60" y1="694.60" x2="258.20" y2="694.60" stroke="#d62728" stroke-width="3.0" />
<circle cx="250.4" cy="687.6" r="6.0" fill="#d62728"/>
<line x1="274.00" y1="682.00" x2="274.00" y2="694.00" stroke="#d62728" stroke-width="2.6" />
<line x1="266.20" y1="682.00" x2="281.80" y2="682.00" stroke="#d62728" stroke-width="3.0" />
<line x1="266.20" y1="694.00" x2="281.80" y2="694.00" stroke="#d62728" stroke-width="3.0" />
<circle cx="274.0" cy="688.0" r="6.0" fill="#d62728"/>
<line x1="308.30" y1="686.50" x2="308.30" y2="698.50" stroke="#d62728" stroke-width="2.6" />
<line x1="300.50" y1="686.50" x2="316.10" y2="686.50" stroke="#d62728" stroke-width="3.0" />
<line x1="300.50" y1="698.50" x2="316.10" y2="698.50" stroke="#d62728" stroke-width="3.0" />
<circle cx="308.3" cy="692.5" r="6.0" fill="#d62728"/>
<line x1="331.00" y1="689.20" x2="331.00" y2="699.20" stroke="#d62728" stroke-width="2.6" />
<line x1="323.20" y1="689.20" x2="338.80" y2="689.20" stroke="#d62728" stroke-width="3.0" />
<line x1="323.20" y1="699.20" x2="338.80" y2="699.20" stroke="#d62728" stroke-width="3.0" />
<circle cx="331.0" cy="694.2" r="6.0" fill="#d62728"/>
<line x1="339.90" y1="692.90" x2="339.90" y2="700.90" stroke="#d62728" stroke-width="2.6" />
<line x1="332.10" y1="692.90" x2="347.70" y2="692.90" stroke="#d62728" stroke-width="3.0" />
<line x1="332.10" y1="700.90" x2="347.70" y2="700.90" stroke="#d62728" stroke-width="3.0" />
<circle cx="339.9" cy="696.9" r="6.0" fill="#d62728"/>
<line x1="195.70" y1="624.90" x2="195.70" y2="643.90" stroke="#7f7f7f" stroke-width="2.6" />
<line x1="187.90" y1="624.90" x2="203.50" y2="624.90" stroke="#7f7f7f" stroke-width="3.0" />
<line x1="187.90" y1="643.90" x2="203.50" y2="643.90" stroke="#7f7f7f" stroke-width="3.0" />
<circle cx="195.7" cy="635.9" r="6.0" fill="#7f7f7f"/>
<path d="M80.00,644.50 C85.00,644.42 101.67,644.58 110.00,644.00 C118.33,643.42 123.33,642.00 130.00,641.00 C136.67,640.00 143.33,638.17 150.00,638.00 C156.67,637.83 163.33,638.00 170.00,640.00 C176.67,642.00 183.33,646.50 190.00,650.00 C196.67,653.50 201.67,657.17 210.00,661.00 C218.33,664.83 228.33,668.83 240.00,673.00 C251.67,677.17 266.67,682.50 280.00,686.00 C293.33,689.50 307.67,691.67 320.00,694.00 C332.33,696.33 348.33,699.00 354.00,700.00" fill="none" stroke="#7f7f7f" stroke-width="2.8" stroke-linecap="round"/>
<path d="M80.00,621.00 C86.67,621.25 108.33,621.50 120.00,622.50 C131.67,623.50 140.00,624.08 150.00,627.00 C160.00,629.92 171.67,635.83 180.00,640.00 C188.33,644.17 193.33,648.00 200.00,652.00 C206.67,656.00 212.50,660.00 220.00,664.00 C227.50,668.00 235.00,672.33 245.00,676.00 C255.00,679.67 267.50,683.00 280.00,686.00 C292.50,689.00 307.67,691.67 320.00,694.00 C332.33,696.33 348.33,699.00 354.00,700.00" fill="none" stroke="#2ca02c" stroke-width="2.8" stroke-linecap="round"/>
<path d="M80.00,629.50 C86.67,629.67 108.33,629.83 120.00,630.50 C131.67,631.17 140.00,631.42 150.00,633.50 C160.00,635.58 171.67,639.58 180.00,643.00 C188.33,646.42 193.33,650.50 200.00,654.00 C206.67,657.50 212.50,660.50 220.00,664.00 C227.50,667.50 235.00,671.50 245.00,675.00 C255.00,678.50 267.50,682.00 280.00,685.00 C292.50,688.00 307.67,690.58 320.00,693.00 C332.33,695.42 348.33,698.42 354.00,699.50" fill="none" stroke="#1f77b4" stroke-width="2.8" stroke-linecap="round"/>
<path d="M80.00,625.50 C86.67,625.67 108.33,625.67 120.00,626.50 C131.67,627.33 140.00,627.75 150.00,630.50 C160.00,633.25 171.67,638.92 180.00,643.00 C188.33,647.08 193.33,651.17 200.00,655.00 C206.67,658.83 212.50,662.33 220.00,666.00 C227.50,669.67 235.00,673.50 245.00,677.00 C255.00,680.50 267.50,684.00 280.00,687.00 C292.50,690.00 307.67,692.75 320.00,695.00 C332.33,697.25 348.33,699.58 354.00,700.50" fill="none" stroke="#d62728" stroke-width="2.8" stroke-linecap="round"/>
<line x1="437.00" y1="607.00" x2="437.00" y2="618.00" stroke="#7f7f7f" stroke-width="2.6" />
<line x1="429.20" y1="607.00" x2="444.80" y2="607.00" stroke="#7f7f7f" stroke-width="3.0" />
<line x1="429.20" y1="618.00" x2="444.80" y2="618.00" stroke="#7f7f7f" stroke-width="3.0" />
<circle cx="437.0" cy="612.0" r="6.0" fill="#7f7f7f"/>
<line x1="456.00" y1="615.50" x2="456.00" y2="627.50" stroke="#7f7f7f" stroke-width="2.6" />
<line x1="448.20" y1="615.50" x2="463.80" y2="615.50" stroke="#7f7f7f" stroke-width="3.0" />
<line x1="448.20" y1="627.50" x2="463.80" y2="627.50" stroke="#7f7f7f" stroke-width="3.0" />
<circle cx="456.0" cy="621.5" r="6.0" fill="#7f7f7f"/>
<line x1="471.40" y1="640.00" x2="471.40" y2="653.20" stroke="#7f7f7f" stroke-width="2.6" />
<line x1="463.60" y1="640.00" x2="479.20" y2="640.00" stroke="#7f7f7f" stroke-width="3.0" />
<line x1="463.60" y1="653.20" x2="479.20" y2="653.20" stroke="#7f7f7f" stroke-width="3.0" />
<circle cx="471.4" cy="646.0" r="6.0" fill="#7f7f7f"/>
<line x1="488.00" y1="655.40" x2="488.00" y2="668.50" stroke="#7f7f7f" stroke-width="2.6" />
<line x1="480.20" y1="655.40" x2="495.80" y2="655.40" stroke="#7f7f7f" stroke-width="3.0" />
<line x1="480.20" y1="668.50" x2="495.80" y2="668.50" stroke="#7f7f7f" stroke-width="3.0" />
<circle cx="488.0" cy="661.4" r="6.0" fill="#7f7f7f"/>
<line x1="517.40" y1="652.40" x2="517.40" y2="670.40" stroke="#7f7f7f" stroke-width="2.6" />
<line x1="509.60" y1="652.40" x2="525.20" y2="652.40" stroke="#7f7f7f" stroke-width="3.0" />
<line x1="509.60" y1="670.40" x2="525.20" y2="670.40" stroke="#7f7f7f" stroke-width="3.0" />
<circle cx="517.4" cy="664.4" r="6.0" fill="#7f7f7f"/>
<line x1="531.00" y1="680.00" x2="531.00" y2="692.00" stroke="#7f7f7f" stroke-width="2.6" />
<line x1="523.20" y1="680.00" x2="538.80" y2="680.00" stroke="#7f7f7f" stroke-width="3.0" />
<line x1="523.20" y1="692.00" x2="538.80" y2="692.00" stroke="#7f7f7f" stroke-width="3.0" />
<circle cx="531.0" cy="686.0" r="6.0" fill="#7f7f7f"/>
<line x1="555.00" y1="677.00" x2="555.00" y2="689.00" stroke="#7f7f7f" stroke-width="2.6" />
<line x1="547.20" y1="677.00" x2="562.80" y2="677.00" stroke="#7f7f7f" stroke-width="3.0" />
<line x1="547.20" y1="689.00" x2="562.80" y2="689.00" stroke="#7f7f7f" stroke-width="3.0" />
<circle cx="555.0" cy="683.0" r="6.0" fill="#7f7f7f"/>
<line x1="597.00" y1="676.00" x2="597.00" y2="690.00" stroke="#7f7f7f" stroke-width="2.6" />
<line x1="589.20" y1="676.00" x2="604.80" y2="676.00" stroke="#7f7f7f" stroke-width="3.0" />
<line x1="589.20" y1="690.00" x2="604.80" y2="690.00" stroke="#7f7f7f" stroke-width="3.0" />
<circle cx="597.0" cy="684.0" r="6.0" fill="#7f7f7f"/>
<line x1="437.00" y1="614.00" x2="437.00" y2="630.70" stroke="#2ca02c" stroke-width="2.6" />
<line x1="429.20" y1="614.00" x2="444.80" y2="614.00" stroke="#2ca02c" stroke-width="3.0" />
<line x1="429.20" y1="630.70" x2="444.80" y2="630.70" stroke="#2ca02c" stroke-width="3.0" />
<circle cx="437.0" cy="620.0" r="6.0" fill="#2ca02c"/>
<line x1="456.00" y1="622.70" x2="456.00" y2="634.70" stroke="#2ca02c" stroke-width="2.6" />
<line x1="448.20" y1="622.70" x2="463.80" y2="622.70" stroke="#2ca02c" stroke-width="3.0" />
<line x1="448.20" y1="634.70" x2="463.80" y2="634.70" stroke="#2ca02c" stroke-width="3.0" />
<circle cx="456.0" cy="628.7" r="6.0" fill="#2ca02c"/>
<line x1="471.40" y1="622.70" x2="471.40" y2="636.70" stroke="#2ca02c" stroke-width="2.6" />
<line x1="463.60" y1="622.70" x2="479.20" y2="622.70" stroke="#2ca02c" stroke-width="3.0" />
<line x1="463.60" y1="636.70" x2="479.20" y2="636.70" stroke="#2ca02c" stroke-width="3.0" />
<circle cx="471.4" cy="630.7" r="6.0" fill="#2ca02c"/>
<line x1="488.00" y1="650.30" x2="488.00" y2="662.30" stroke="#2ca02c" stroke-width="2.6" />
<line x1="480.20" y1="650.30" x2="495.80" y2="650.30" stroke="#2ca02c" stroke-width="3.0" />
<line x1="480.20" y1="662.30" x2="495.80" y2="662.30" stroke="#2ca02c" stroke-width="3.0" />
<circle cx="488.0" cy="656.3" r="6.0" fill="#2ca02c"/>
<line x1="517.00" y1="660.00" x2="517.00" y2="674.00" stroke="#2ca02c" stroke-width="2.6" />
<line x1="509.20" y1="660.00" x2="524.80" y2="660.00" stroke="#2ca02c" stroke-width="3.0" />
<line x1="509.20" y1="674.00" x2="524.80" y2="674.00" stroke="#2ca02c" stroke-width="3.0" />
<circle cx="517.0" cy="668.0" r="6.0" fill="#2ca02c"/>
<line x1="531.60" y1="682.50" x2="531.60" y2="693.00" stroke="#2ca02c" stroke-width="2.6" />
<line x1="523.80" y1="682.50" x2="539.40" y2="682.50" stroke="#2ca02c" stroke-width="3.0" />
<line x1="523.80" y1="693.00" x2="539.40" y2="693.00" stroke="#2ca02c" stroke-width="3.0" />
<circle cx="531.6" cy="688.5" r="6.0" fill="#2ca02c"/>
<line x1="597.30" y1="692.30" x2="597.30" y2="700.30" stroke="#2ca02c" stroke-width="2.6" />
<line x1="589.50" y1="692.30" x2="605.10" y2="692.30" stroke="#2ca02c" stroke-width="3.0" />
<line x1="589.50" y1="700.30" x2="605.10" y2="700.30" stroke="#2ca02c" stroke-width="3.0" />
<circle cx="597.3" cy="697.3" r="6.0" fill="#2ca02c"/>
<line x1="435.60" y1="603.50" x2="435.60" y2="619.40" stroke="#1f77b4" stroke-width="2.6" />
<line x1="427.80" y1="603.50" x2="443.40" y2="603.50" stroke="#1f77b4" stroke-width="3.0" />
<line x1="427.80" y1="619.40" x2="443.40" y2="619.40" stroke="#1f77b4" stroke-width="3.0" />
<circle cx="435.6" cy="613.4" r="6.0" fill="#1f77b4"/>
<line x1="454.00" y1="628.80" x2="454.00" y2="641.00" stroke="#1f77b4" stroke-width="2.6" />
<line x1="446.20" y1="628.80" x2="461.80" y2="628.80" stroke="#1f77b4" stroke-width="3.0" />
<line x1="446.20" y1="641.00" x2="461.80" y2="641.00" stroke="#1f77b4" stroke-width="3.0" />
<circle cx="454.0" cy="634.8" r="6.0" fill="#1f77b4"/>
<line x1="468.00" y1="598.00" x2="468.00" y2="617.30" stroke="#1f77b4" stroke-width="2.6" />
<line x1="460.20" y1="598.00" x2="475.80" y2="598.00" stroke="#1f77b4" stroke-width="3.0" />
<line x1="460.20" y1="617.30" x2="475.80" y2="617.30" stroke="#1f77b4" stroke-width="3.0" />
<circle cx="468.0" cy="611.3" r="6.0" fill="#1f77b4"/>
<line x1="488.80" y1="638.90" x2="488.80" y2="654.10" stroke="#1f77b4" stroke-width="2.6" />
<line x1="481.00" y1="638.90" x2="496.60" y2="638.90" stroke="#1f77b4" stroke-width="3.0" />
<line x1="481.00" y1="654.10" x2="496.60" y2="654.10" stroke="#1f77b4" stroke-width="3.0" />
<circle cx="488.8" cy="648.1" r="6.0" fill="#1f77b4"/>
<line x1="531.60" y1="667.00" x2="531.60" y2="682.50" stroke="#1f77b4" stroke-width="2.6" />
<line x1="523.80" y1="667.00" x2="539.40" y2="667.00" stroke="#1f77b4" stroke-width="3.0" />
<line x1="523.80" y1="682.50" x2="539.40" y2="682.50" stroke="#1f77b4" stroke-width="3.0" />
<circle cx="531.6" cy="676.5" r="6.0" fill="#1f77b4"/>
<line x1="554.60" y1="682.50" x2="554.60" y2="694.50" stroke="#1f77b4" stroke-width="2.6" />
<line x1="546.80" y1="682.50" x2="562.40" y2="682.50" stroke="#1f77b4" stroke-width="3.0" />
<line x1="546.80" y1="694.50" x2="562.40" y2="694.50" stroke="#1f77b4" stroke-width="3.0" />
<circle cx="554.6" cy="688.5" r="6.0" fill="#1f77b4"/>
<line x1="588.50" y1="691.20" x2="588.50" y2="700.20" stroke="#1f77b4" stroke-width="2.6" />
<line x1="580.70" y1="691.20" x2="596.30" y2="691.20" stroke="#1f77b4" stroke-width="3.0" />
<line x1="580.70" y1="700.20" x2="596.30" y2="700.20" stroke="#1f77b4" stroke-width="3.0" />
<circle cx="588.5" cy="696.2" r="6.0" fill="#1f77b4"/>
<line x1="621.40" y1="692.20" x2="621.40" y2="700.20" stroke="#1f77b4" stroke-width="2.6" />
<line x1="613.60" y1="692.20" x2="629.20" y2="692.20" stroke="#1f77b4" stroke-width="3.0" />
<line x1="613.60" y1="700.20" x2="629.20" y2="700.20" stroke="#1f77b4" stroke-width="3.0" />
<circle cx="621.4" cy="696.2" r="6.0" fill="#1f77b4"/>
<line x1="401.90" y1="571.50" x2="401.90" y2="598.00" stroke="#d62728" stroke-width="2.6" />
<line x1="394.10" y1="571.50" x2="409.70" y2="571.50" stroke="#d62728" stroke-width="3.0" />
<line x1="394.10" y1="598.00" x2="409.70" y2="598.00" stroke="#d62728" stroke-width="3.0" />
<circle cx="401.9" cy="585.2" r="6.0" fill="#d62728"/>
<line x1="447.90" y1="613.50" x2="447.90" y2="625.50" stroke="#d62728" stroke-width="2.6" />
<line x1="440.10" y1="613.50" x2="455.70" y2="613.50" stroke="#d62728" stroke-width="3.0" />
<line x1="440.10" y1="625.50" x2="455.70" y2="625.50" stroke="#d62728" stroke-width="3.0" />
<circle cx="447.9" cy="619.5" r="6.0" fill="#d62728"/>
<line x1="466.30" y1="595.40" x2="466.30" y2="617.30" stroke="#d62728" stroke-width="2.6" />
<line x1="458.50" y1="595.40" x2="474.10" y2="595.40" stroke="#d62728" stroke-width="3.0" />
<line x1="458.50" y1="617.30" x2="474.10" y2="617.30" stroke="#d62728" stroke-width="3.0" />
<circle cx="466.3" cy="609.3" r="6.0" fill="#d62728"/>
<line x1="485.70" y1="580.70" x2="485.70" y2="615.40" stroke="#d62728" stroke-width="2.6" />
<line x1="477.90" y1="580.70" x2="493.50" y2="580.70" stroke="#d62728" stroke-width="3.0" />
<line x1="477.90" y1="615.40" x2="493.50" y2="615.40" stroke="#d62728" stroke-width="3.0" />
<circle cx="485.7" cy="598.0" r="6.0" fill="#d62728"/>
<line x1="514.10" y1="671.60" x2="514.10" y2="686.30" stroke="#d62728" stroke-width="2.6" />
<line x1="506.30" y1="671.60" x2="521.90" y2="671.60" stroke="#d62728" stroke-width="3.0" />
<line x1="506.30" y1="686.30" x2="521.90" y2="686.30" stroke="#d62728" stroke-width="3.0" />
<circle cx="514.1" cy="677.6" r="6.0" fill="#d62728"/>
<line x1="529.40" y1="676.00" x2="529.40" y2="688.00" stroke="#d62728" stroke-width="2.6" />
<line x1="521.60" y1="676.00" x2="537.20" y2="676.00" stroke="#d62728" stroke-width="3.0" />
<line x1="521.60" y1="688.00" x2="537.20" y2="688.00" stroke="#d62728" stroke-width="3.0" />
<circle cx="529.4" cy="682.0" r="6.0" fill="#d62728"/>
<line x1="553.50" y1="666.20" x2="553.50" y2="684.70" stroke="#d62728" stroke-width="2.6" />
<line x1="545.70" y1="666.20" x2="561.30" y2="666.20" stroke="#d62728" stroke-width="3.0" />
<line x1="545.70" y1="684.70" x2="561.30" y2="684.70" stroke="#d62728" stroke-width="3.0" />
<circle cx="553.5" cy="678.7" r="6.0" fill="#d62728"/>
<line x1="578.70" y1="681.00" x2="578.70" y2="697.00" stroke="#d62728" stroke-width="2.6" />
<line x1="570.90" y1="681.00" x2="586.50" y2="681.00" stroke="#d62728" stroke-width="3.0" />
<line x1="570.90" y1="697.00" x2="586.50" y2="697.00" stroke="#d62728" stroke-width="3.0" />
<circle cx="578.7" cy="688.5" r="6.0" fill="#d62728"/>
<line x1="596.20" y1="670.00" x2="596.20" y2="685.80" stroke="#d62728" stroke-width="2.6" />
<line x1="588.40" y1="670.00" x2="604.00" y2="670.00" stroke="#d62728" stroke-width="3.0" />
<line x1="588.40" y1="685.80" x2="604.00" y2="685.80" stroke="#d62728" stroke-width="3.0" />
<circle cx="596.2" cy="679.8" r="6.0" fill="#d62728"/>
<line x1="612.60" y1="687.40" x2="612.60" y2="695.80" stroke="#d62728" stroke-width="2.6" />
<line x1="604.80" y1="687.40" x2="620.40" y2="687.40" stroke="#d62728" stroke-width="3.0" />
<line x1="604.80" y1="695.80" x2="620.40" y2="695.80" stroke="#d62728" stroke-width="3.0" />
<circle cx="612.6" cy="691.8" r="6.0" fill="#d62728"/>
<line x1="618.10" y1="695.50" x2="618.10" y2="702.50" stroke="#d62728" stroke-width="2.6" />
<line x1="610.30" y1="695.50" x2="625.90" y2="695.50" stroke="#d62728" stroke-width="3.0" />
<line x1="610.30" y1="702.50" x2="625.90" y2="702.50" stroke="#d62728" stroke-width="3.0" />
<circle cx="618.1" cy="699.5" r="6.0" fill="#d62728"/>
<path d="M362.00,604.00 C368.33,604.42 390.33,605.17 400.00,606.50 C409.67,607.83 413.33,609.83 420.00,612.00 C426.67,614.17 433.33,616.33 440.00,619.50 C446.67,622.67 453.33,626.75 460.00,631.00 C466.67,635.25 473.33,640.33 480.00,645.00 C486.67,649.67 494.17,654.92 500.00,659.00 C505.83,663.08 510.00,666.25 515.00,669.50 C520.00,672.75 522.50,675.25 530.00,678.50 C537.50,681.75 548.33,686.08 560.00,689.00 C571.67,691.92 587.33,694.17 600.00,696.00 C612.67,697.83 630.00,699.33 636.00,700.00" fill="none" stroke="#7f7f7f" stroke-width="2.8" stroke-linecap="round"/>
<path d="M362.00,610.00 C368.33,610.33 390.33,611.08 400.00,612.00 C409.67,612.92 413.33,613.92 420.00,615.50 C426.67,617.08 433.33,618.92 440.00,621.50 C446.67,624.08 453.33,627.08 460.00,631.00 C466.67,634.92 473.33,640.33 480.00,645.00 C486.67,649.67 494.17,654.83 500.00,659.00 C505.83,663.17 510.00,666.67 515.00,670.00 C520.00,673.33 522.50,675.83 530.00,679.00 C537.50,682.17 548.33,686.17 560.00,689.00 C571.67,691.83 587.33,694.17 600.00,696.00 C612.67,697.83 630.00,699.33 636.00,700.00" fill="none" stroke="#2ca02c" stroke-width="2.8" stroke-linecap="round"/>
<path d="M362.00,611.50 C368.33,611.83 390.33,612.42 400.00,613.50 C409.67,614.58 413.33,616.25 420.00,618.00 C426.67,619.75 433.33,621.42 440.00,624.00 C446.67,626.58 453.33,629.67 460.00,633.50 C466.67,637.33 473.33,642.58 480.00,647.00 C486.67,651.42 494.17,656.08 500.00,660.00 C505.83,663.92 510.00,667.33 515.00,670.50 C520.00,673.67 522.50,675.92 530.00,679.00 C537.50,682.08 548.33,686.17 560.00,689.00 C571.67,691.83 587.33,694.17 600.00,696.00 C612.67,697.83 630.00,699.33 636.00,700.00" fill="none" stroke="#1f77b4" stroke-width="2.8" stroke-linecap="round"/>
<path d="M362.00,590.50 C365.83,590.42 378.67,589.92 385.00,590.00 C391.33,590.08 395.50,589.67 400.00,591.00 C404.50,592.33 407.83,595.33 412.00,598.00 C416.17,600.67 420.33,604.50 425.00,607.00 C429.67,609.50 434.17,611.25 440.00,613.00 C445.83,614.75 454.17,616.33 460.00,617.50 C465.83,618.67 470.83,618.92 475.00,620.00 C479.17,621.08 482.17,622.17 485.00,624.00 C487.83,625.83 489.50,627.50 492.00,631.00 C494.50,634.50 497.33,640.17 500.00,645.00 C502.67,649.83 504.67,655.17 508.00,660.00 C511.33,664.83 514.67,669.67 520.00,674.00 C525.33,678.33 531.67,682.83 540.00,686.00 C548.33,689.17 560.00,691.17 570.00,693.00 C580.00,694.83 589.00,695.83 600.00,697.00 C611.00,698.17 630.00,699.50 636.00,700.00" fill="none" stroke="#d62728" stroke-width="2.8" stroke-linecap="round"/>
<circle cx="88.2" cy="791.7" r="6.0" fill="#7f7f7f"/>
<circle cx="104.6" cy="790.7" r="6.0" fill="#7f7f7f"/>
<circle cx="141.4" cy="787.7" r="6.0" fill="#7f7f7f"/>
<circle cx="168.0" cy="795.8" r="6.0" fill="#7f7f7f"/>
<circle cx="178.1" cy="801.0" r="6.0" fill="#7f7f7f"/>
<circle cx="190.4" cy="810.1" r="6.0" fill="#7f7f7f"/>
<circle cx="200.6" cy="816.3" r="6.0" fill="#7f7f7f"/>
<circle cx="210.8" cy="819.3" r="6.0" fill="#7f7f7f"/>
<circle cx="224.0" cy="822.0" r="6.0" fill="#7f7f7f"/>
<circle cx="232.0" cy="826.0" r="6.0" fill="#7f7f7f"/>
<circle cx="245.0" cy="832.0" r="6.0" fill="#7f7f7f"/>
<circle cx="262.0" cy="838.0" r="6.0" fill="#7f7f7f"/>
<circle cx="275.0" cy="843.0" r="6.0" fill="#7f7f7f"/>
<circle cx="290.0" cy="848.0" r="6.0" fill="#7f7f7f"/>
<circle cx="305.0" cy="852.0" r="6.0" fill="#7f7f7f"/>
<circle cx="320.0" cy="855.0" r="6.0" fill="#7f7f7f"/>
<circle cx="340.0" cy="857.0" r="6.0" fill="#7f7f7f"/>
<circle cx="85.2" cy="782.6" r="6.0" fill="#2ca02c"/>
<circle cx="116.8" cy="778.5" r="6.0" fill="#2ca02c"/>
<circle cx="190.0" cy="798.0" r="6.0" fill="#2ca02c"/>
<circle cx="200.0" cy="806.0" r="6.0" fill="#2ca02c"/>
<circle cx="235.0" cy="826.0" r="6.0" fill="#2ca02c"/>
<circle cx="258.0" cy="836.0" r="6.0" fill="#2ca02c"/>
<circle cx="280.0" cy="845.0" r="6.0" fill="#2ca02c"/>
<circle cx="300.0" cy="851.0" r="6.0" fill="#2ca02c"/>
<circle cx="325.0" cy="855.0" r="6.0" fill="#2ca02c"/>
<circle cx="345.0" cy="857.0" r="6.0" fill="#2ca02c"/>
<circle cx="90.3" cy="783.6" r="6.0" fill="#1f77b4"/>
<circle cx="106.6" cy="780.5" r="6.0" fill="#1f77b4"/>
<circle cx="144.4" cy="778.5" r="6.0" fill="#1f77b4"/>
<circle cx="168.0" cy="785.6" r="6.0" fill="#1f77b4"/>
<circle cx="178.1" cy="792.8" r="6.0" fill="#1f77b4"/>
<circle cx="188.4" cy="800.0" r="6.0" fill="#1f77b4"/>
<circle cx="197.6" cy="812.2" r="6.0" fill="#1f77b4"/>
<circle cx="217.0" cy="824.5" r="6.0" fill="#1f77b4"/>
<circle cx="231.0" cy="827.0" r="6.0" fill="#1f77b4"/>
<circle cx="241.0" cy="829.0" r="6.0" fill="#1f77b4"/>
<circle cx="254.0" cy="838.0" r="6.0" fill="#1f77b4"/>
<circle cx="262.0" cy="840.0" r="6.0" fill="#1f77b4"/>
<circle cx="275.0" cy="846.0" r="6.0" fill="#1f77b4"/>
<circle cx="283.0" cy="849.0" r="6.0" fill="#1f77b4"/>
<circle cx="296.0" cy="853.0" r="6.0" fill="#1f77b4"/>
<circle cx="305.0" cy="855.0" r="6.0" fill="#1f77b4"/>
<circle cx="319.0" cy="858.0" r="6.0" fill="#1f77b4"/>
<circle cx="328.0" cy="859.0" r="6.0" fill="#1f77b4"/>
<circle cx="343.0" cy="859.0" r="6.0" fill="#1f77b4"/>
<circle cx="350.0" cy="859.0" r="6.0" fill="#1f77b4"/>
<circle cx="87.2" cy="771.3" r="6.0" fill="#d62728"/>
<circle cx="99.5" cy="770.3" r="6.0" fill="#d62728"/>
<circle cx="129.1" cy="771.3" r="6.0" fill="#d62728"/>
<circle cx="165.9" cy="773.4" r="6.0" fill="#d62728"/>
<circle cx="177.1" cy="782.6" r="6.0" fill="#d62728"/>
<circle cx="188.4" cy="787.3" r="6.0" fill="#d62728"/>
<circle cx="197.6" cy="798.9" r="6.0" fill="#d62728"/>
<circle cx="210.5" cy="808.3" r="6.0" fill="#d62728"/>
<circle cx="218.5" cy="811.0" r="6.0" fill="#d62728"/>
<circle cx="231.9" cy="822.4" r="6.0" fill="#d62728"/>
<circle cx="240.7" cy="824.6" r="6.0" fill="#d62728"/>
<circle cx="253.8" cy="833.4" r="6.0" fill="#d62728"/>
<circle cx="261.5" cy="836.6" r="6.0" fill="#d62728"/>
<circle cx="274.6" cy="842.1" r="6.0" fill="#d62728"/>
<circle cx="282.3" cy="845.4" r="6.0" fill="#d62728"/>
<circle cx="295.4" cy="849.8" r="6.0" fill="#d62728"/>
<circle cx="304.2" cy="852.0" r="6.0" fill="#d62728"/>
<circle cx="318.4" cy="855.2" r="6.0" fill="#d62728"/>
<circle cx="327.1" cy="856.3" r="6.0" fill="#d62728"/>
<circle cx="342.5" cy="856.3" r="6.0" fill="#d62728"/>
<circle cx="350.1" cy="856.3" r="6.0" fill="#d62728"/>
<path d="M80.00,788.70 C85.00,788.55 98.33,788.03 110.00,787.80 C121.67,787.57 140.83,786.77 150.00,787.30 C159.17,787.83 160.00,789.05 165.00,791.00 C170.00,792.95 175.00,796.17 180.00,799.00 C185.00,801.83 190.00,805.17 195.00,808.00 C200.00,810.83 206.17,814.00 210.00,816.00 C213.83,818.00 213.83,818.00 218.00,820.00 C222.17,822.00 228.83,825.17 235.00,828.00 C241.17,830.83 247.50,834.17 255.00,837.00 C262.50,839.83 271.67,842.67 280.00,845.00 C288.33,847.33 296.67,849.25 305.00,851.00 C313.33,852.75 321.83,854.33 330.00,855.50 C338.17,856.67 350.00,857.58 354.00,858.00" fill="none" stroke="#7f7f7f" stroke-width="2.8" stroke-linecap="round"/>
<path d="M80.00,781.50 C85.00,781.25 100.00,780.33 110.00,780.00 C120.00,779.67 131.67,779.00 140.00,779.50 C148.33,780.00 154.17,781.25 160.00,783.00 C165.83,784.75 170.00,787.17 175.00,790.00 C180.00,792.83 185.00,796.67 190.00,800.00 C195.00,803.33 200.33,807.17 205.00,810.00 C209.67,812.83 213.00,814.33 218.00,817.00 C223.00,819.67 228.83,822.92 235.00,826.00 C241.17,829.08 247.50,832.50 255.00,835.50 C262.50,838.50 271.67,841.50 280.00,844.00 C288.33,846.50 296.67,848.67 305.00,850.50 C313.33,852.33 321.83,853.83 330.00,855.00 C338.17,856.17 350.00,857.08 354.00,857.50" fill="none" stroke="#2ca02c" stroke-width="2.8" stroke-linecap="round"/>
<path d="M80.00,780.50 C85.00,780.25 100.00,779.33 110.00,779.00 C120.00,778.67 131.67,778.00 140.00,778.50 C148.33,779.00 154.17,780.25 160.00,782.00 C165.83,783.75 170.00,786.17 175.00,789.00 C180.00,791.83 185.00,795.33 190.00,799.00 C195.00,802.67 200.33,807.83 205.00,811.00 C209.67,814.17 213.00,815.17 218.00,818.00 C223.00,820.83 228.83,824.83 235.00,828.00 C241.17,831.17 247.50,834.17 255.00,837.00 C262.50,839.83 271.67,842.67 280.00,845.00 C288.33,847.33 296.67,849.25 305.00,851.00 C313.33,852.75 321.83,854.33 330.00,855.50 C338.17,856.67 350.00,857.58 354.00,858.00" fill="none" stroke="#1f77b4" stroke-width="2.8" stroke-linecap="round"/>
<path d="M80.00,772.00 C84.17,771.67 96.50,770.45 105.00,770.00 C113.50,769.55 123.50,769.22 131.00,769.30 C138.50,769.38 144.17,769.72 150.00,770.50 C155.83,771.28 161.00,772.25 166.00,774.00 C171.00,775.75 175.17,778.00 180.00,781.00 C184.83,784.00 190.00,787.83 195.00,792.00 C200.00,796.17 206.17,802.67 210.00,806.00 C213.83,809.33 214.33,809.33 218.00,812.00 C221.67,814.67 225.83,818.50 232.00,822.00 C238.17,825.50 247.00,829.50 255.00,833.00 C263.00,836.50 271.67,840.17 280.00,843.00 C288.33,845.83 296.67,848.00 305.00,850.00 C313.33,852.00 321.83,853.75 330.00,855.00 C338.17,856.25 350.00,857.08 354.00,857.50" fill="none" stroke="#d62728" stroke-width="2.8" stroke-linecap="round"/>
<g clip-path="url(#cg)">
<circle cx="366.1" cy="775.4" r="6.0" fill="#7f7f7f"/>
<circle cx="421.3" cy="770.3" r="6.0" fill="#7f7f7f"/>
<circle cx="448.9" cy="780.5" r="6.0" fill="#7f7f7f"/>
<circle cx="458.1" cy="790.7" r="6.0" fill="#7f7f7f"/>
<circle cx="469.3" cy="797.9" r="6.0" fill="#7f7f7f"/>
<circle cx="480.6" cy="805.0" r="6.0" fill="#7f7f7f"/>
<circle cx="490.8" cy="810.1" r="6.0" fill="#7f7f7f"/>
<circle cx="499.0" cy="816.3" r="6.0" fill="#7f7f7f"/>
<circle cx="511.9" cy="822.1" r="6.0" fill="#7f7f7f"/>
<circle cx="520.7" cy="826.5" r="6.0" fill="#7f7f7f"/>
<circle cx="531.6" cy="835.2" r="6.0" fill="#7f7f7f"/>
<circle cx="540.4" cy="839.6" r="6.0" fill="#7f7f7f"/>
<circle cx="553.5" cy="845.1" r="6.0" fill="#7f7f7f"/>
<circle cx="563.4" cy="848.4" r="6.0" fill="#7f7f7f"/>
<circle cx="385.5" cy="759.0" r="6.0" fill="#2ca02c"/>
<circle cx="419.3" cy="753.9" r="6.0" fill="#2ca02c"/>
<circle cx="460.1" cy="773.4" r="6.0" fill="#2ca02c"/>
<circle cx="471.4" cy="784.6" r="6.0" fill="#2ca02c"/>
<circle cx="490.8" cy="796.9" r="6.0" fill="#2ca02c"/>
<circle cx="500.9" cy="803.5" r="6.0" fill="#2ca02c"/>
<circle cx="583.1" cy="855.0" r="6.0" fill="#2ca02c"/>
<circle cx="607.1" cy="855.0" r="6.0" fill="#2ca02c"/>
<circle cx="366.1" cy="759.0" r="6.0" fill="#1f77b4"/>
<circle cx="365.5" cy="764.0" r="6.0" fill="#1f77b4"/>
<circle cx="373.3" cy="761.1" r="6.0" fill="#1f77b4"/>
<circle cx="387.6" cy="765.2" r="6.0" fill="#1f77b4"/>
<circle cx="423.4" cy="760.0" r="6.0" fill="#1f77b4"/>
<circle cx="448.9" cy="767.2" r="6.0" fill="#1f77b4"/>
<circle cx="458.1" cy="783.6" r="6.0" fill="#1f77b4"/>
<circle cx="480.6" cy="792.8" r="6.0" fill="#1f77b4"/>
<circle cx="511.9" cy="814.4" r="6.0" fill="#1f77b4"/>
<circle cx="543.6" cy="828.7" r="6.0" fill="#1f77b4"/>
<circle cx="562.3" cy="841.8" r="6.0" fill="#1f77b4"/>
<circle cx="586.3" cy="850.6" r="6.0" fill="#1f77b4"/>
<circle cx="610.4" cy="852.8" r="6.0" fill="#1f77b4"/>
<circle cx="623.6" cy="856.0" r="6.0" fill="#1f77b4"/>
<circle cx="365.5" cy="739.5" r="6.0" fill="#d62728"/>
<circle cx="364.1" cy="733.0" r="6.0" fill="#d62728"/>
<circle cx="370.5" cy="726.8" r="6.0" fill="#d62728"/>
<circle cx="368.0" cy="729.0" r="6.0" fill="#d62728"/>
<circle cx="384.5" cy="730.4" r="6.0" fill="#d62728"/>
<circle cx="424.4" cy="730.4" r="6.0" fill="#d62728"/>
<circle cx="453.0" cy="732.5" r="6.0" fill="#d62728"/>
<circle cx="462.2" cy="741.7" r="6.0" fill="#d62728"/>
<circle cx="472.4" cy="755.0" r="6.0" fill="#d62728"/>
<circle cx="484.7" cy="761.1" r="6.0" fill="#d62728"/>
<circle cx="493.9" cy="771.3" r="6.0" fill="#d62728"/>
<circle cx="506.4" cy="792.5" r="6.0" fill="#d62728"/>
<circle cx="516.3" cy="804.6" r="6.0" fill="#d62728"/>
<circle cx="528.3" cy="817.7" r="6.0" fill="#d62728"/>
<circle cx="538.2" cy="826.5" r="6.0" fill="#d62728"/>
<circle cx="551.3" cy="836.3" r="6.0" fill="#d62728"/>
<circle cx="562.3" cy="840.7" r="6.0" fill="#d62728"/>
<circle cx="573.2" cy="846.2" r="6.0" fill="#d62728"/>
<circle cx="583.1" cy="847.3" r="6.0" fill="#d62728"/>
<circle cx="597.3" cy="849.5" r="6.0" fill="#d62728"/>
<circle cx="607.1" cy="850.6" r="6.0" fill="#d62728"/>
<circle cx="622.5" cy="851.7" r="6.0" fill="#d62728"/>
<circle cx="631.2" cy="853.9" r="6.0" fill="#d62728"/>
</g>
<path d="M362.00,764.80 C366.67,764.92 380.17,764.75 390.00,765.50 C399.83,766.25 412.67,767.72 421.00,769.30 C429.33,770.88 433.50,772.05 440.00,775.00 C446.50,777.95 453.33,782.83 460.00,787.00 C466.67,791.17 473.33,795.12 480.00,800.00 C486.67,804.88 493.33,811.63 500.00,816.30 C506.67,820.97 513.33,824.38 520.00,828.00 C526.67,831.62 533.33,835.00 540.00,838.00 C546.67,841.00 551.67,843.83 560.00,846.00 C568.33,848.17 577.33,849.50 590.00,851.00 C602.67,852.50 628.33,854.33 636.00,855.00" fill="none" stroke="#7f7f7f" stroke-width="2.8" stroke-linecap="round"/>
<path d="M362.00,759.00 C366.67,758.75 381.17,757.90 390.00,757.50 C398.83,757.10 407.50,756.18 415.00,756.60 C422.50,757.02 428.83,757.88 435.00,760.00 C441.17,762.12 446.17,765.80 452.00,769.30 C457.83,772.80 463.67,776.72 470.00,781.00 C476.33,785.28 483.33,790.17 490.00,795.00 C496.67,799.83 503.33,805.00 510.00,810.00 C516.67,815.00 522.50,820.00 530.00,825.00 C537.50,830.00 546.67,836.17 555.00,840.00 C563.33,843.83 570.83,846.00 580.00,848.00 C589.17,850.00 600.67,851.00 610.00,852.00 C619.33,853.00 631.67,853.67 636.00,854.00" fill="none" stroke="#2ca02c" stroke-width="2.8" stroke-linecap="round"/>
<path d="M362.00,760.70 C366.67,760.50 381.17,759.87 390.00,759.50 C398.83,759.13 407.50,758.08 415.00,758.50 C422.50,758.92 428.83,759.92 435.00,762.00 C441.17,764.08 446.17,767.33 452.00,771.00 C457.83,774.67 463.67,779.33 470.00,784.00 C476.33,788.67 483.33,794.00 490.00,799.00 C496.67,804.00 503.33,809.17 510.00,814.00 C516.67,818.83 522.50,823.50 530.00,828.00 C537.50,832.50 546.67,837.50 555.00,841.00 C563.33,844.50 570.83,847.08 580.00,849.00 C589.17,850.92 600.67,851.58 610.00,852.50 C619.33,853.42 631.67,854.17 636.00,854.50" fill="none" stroke="#1f77b4" stroke-width="2.8" stroke-linecap="round"/>
<path d="M362.00,730.00 C368.33,729.92 389.50,729.58 400.00,729.50 C410.50,729.42 417.50,729.25 425.00,729.50 C432.50,729.75 440.00,730.25 445.00,731.00 C450.00,731.75 452.17,732.17 455.00,734.00 C457.83,735.83 458.83,738.50 462.00,742.00 C465.17,745.50 470.17,751.67 474.00,755.00 C477.83,758.33 481.50,759.17 485.00,762.00 C488.50,764.83 491.50,767.33 495.00,772.00 C498.50,776.67 502.50,784.67 506.00,790.00 C509.50,795.33 512.33,799.50 516.00,804.00 C519.67,808.50 524.00,813.00 528.00,817.00 C532.00,821.00 535.50,824.67 540.00,828.00 C544.50,831.33 549.17,834.17 555.00,837.00 C560.83,839.83 567.50,842.83 575.00,845.00 C582.50,847.17 589.83,848.58 600.00,850.00 C610.17,851.42 630.00,852.92 636.00,853.50" fill="none" stroke="#d62728" stroke-width="2.8" stroke-linecap="round"/>
<rect x="80.0" y="551.2" width="274.40" height="153.80" fill="none" stroke="#000" stroke-width="3.8"/>
<rect x="80.0" y="713.0" width="274.40" height="153.20" fill="none" stroke="#000" stroke-width="3.8"/>
<rect x="361.8" y="551.2" width="274.00" height="153.80" fill="none" stroke="#000" stroke-width="3.8"/>
<rect x="361.8" y="713.0" width="274.00" height="153.20" fill="none" stroke="#000" stroke-width="3.8"/>
<g style="opacity:0.999"><text transform="matrix(0.9302 0.0000 0.0000 1.0574 88.3651 29.5474)" font-size="22.0" fill="#000">(a)</text><text transform="matrix(0.9725 0.0000 0.0000 1.0766 86.2953 187.9632)" font-size="22.0" fill="#000">(b)</text><text transform="matrix(0.9490 0.0000 0.0000 1.0526 86.3341 346.0684)" font-size="22.0" fill="#000">(c)</text><text transform="matrix(0.9979 0.0000 0.0000 1.0909 92.1535 577.3000)" font-size="22.0" fill="#000">(d)</text><text transform="matrix(0.9852 0.0000 0.0000 1.0909 92.1744 738.8000)" font-size="22.0" fill="#000">(e)</text><text transform="matrix(1.0114 0.0000 0.0000 1.0766 374.2312 577.0632)" font-size="22.0" fill="#000">(f)</text><text transform="matrix(0.9598 0.0000 0.0000 1.0766 375.5163 737.4632)" font-size="22.0" fill="#000">(g)</text><text transform="matrix(0.9972 0.0000 0.0000 1.1129 125.3545 33.1394)" font-size="22.0" fill="#808080">E048162,</text><text transform="matrix(1.0000 0.0000 0.0000 1.1104 222.0500 33.0000)" font-size="22.0" fill="#008000">E048163</text><text transform="matrix(0.9972 0.0000 0.0000 1.1295 125.3545 60.4939)" font-size="22.0" fill="#0070c0">E048166,</text><text transform="matrix(1.0140 0.0000 0.0000 1.1104 222.0269 60.0000)" font-size="22.0" fill="#cc1010">E041864</text><text transform="matrix(0.9520 0.0000 0.0000 1.1579 176.7764 106.4053)" font-size="22.0" fill="#000">Tang. NB (Balance)</text><text transform="matrix(0.9577 0.0000 0.0000 1.0556 418.8197 121.6556)" font-size="22.0" fill="#000">Perp. NB</text><text transform="matrix(1.1483 0.0000 0.0000 1.0390 52.7368 159.1000)" font-size="22.0" fill="#000">0</text><text transform="matrix(1.0909 0.0000 0.0000 1.0390 53.4000 117.8200)" font-size="22.0" fill="#000">4</text><text transform="matrix(1.1483 0.0000 0.0000 1.0390 52.7368 76.5400)" font-size="22.0" fill="#000">8</text><text transform="matrix(1.1010 0.0000 0.0000 1.0779 52.3889 35.3000)" font-size="22.0" fill="#000">2</text><text transform="matrix(1.0909 0.0000 0.0000 1.0390 53.4000 306.6000)" font-size="22.0" fill="#000">4</text><text transform="matrix(1.1483 0.0000 0.0000 1.0390 52.7368 246.6000)" font-size="22.0" fill="#000">5</text><text transform="matrix(1.1483 0.0000 0.0000 1.0390 52.7368 186.6000)" font-size="22.0" fill="#000">6</text><text transform="matrix(1.1483 0.0000 0.0000 1.0390 52.7368 477.8000)" font-size="22.0" fill="#000">0</text><text transform="matrix(1.2121 0.0000 0.0000 1.0390 52.6667 387.4000)" font-size="22.0" fill="#000">2</text><text transform="matrix(1.1483 0.0000 0.0000 1.0390 52.7368 342.2000)" font-size="22.0" fill="#000">3</text><text transform="matrix(1.1962 0.0000 0.0000 1.0390 631.7842 317.6000)" font-size="22.0" fill="#000">0</text><text transform="matrix(1.2028 0.0000 0.0000 1.0455 57.6769 495.8000)" font-size="22.0" fill="#000">3.0</text><text transform="matrix(1.2028 0.0000 0.0000 1.0455 166.8369 495.8000)" font-size="22.0" fill="#000">3.5</text><text transform="matrix(1.1801 0.0000 0.0000 1.0455 276.6709 495.8000)" font-size="22.0" fill="#000">4.0</text><text transform="matrix(1.1801 0.0000 0.0000 1.0455 385.8309 495.8000)" font-size="22.0" fill="#000">4.5</text><text transform="matrix(1.2028 0.0000 0.0000 1.0455 494.3169 495.8000)" font-size="22.0" fill="#000">5.0</text><text transform="matrix(1.2028 0.0000 0.0000 1.0455 603.4769 495.8000)" font-size="22.0" fill="#000">5.5</text><text transform="matrix(1.0909 0.0000 0.0000 1.0526 310.4000 530.3684)" font-size="22.0" fill="#000">time (s)</text><text transform="matrix(1.1483 0.0000 0.0000 1.0130 56.6368 713.5000)" font-size="22.0" fill="#000">0</text><text transform="matrix(1.2121 0.0000 0.0000 1.0130 56.5667 679.3222)" font-size="22.0" fill="#000">2</text><text transform="matrix(1.0909 0.0000 0.0000 1.0130 57.3000 645.1444)" font-size="22.0" fill="#000">4</text><text transform="matrix(1.1483 0.0000 0.0000 1.0130 56.6368 610.9667)" font-size="22.0" fill="#000">6</text><text transform="matrix(1.1483 0.0000 0.0000 1.0130 56.6368 576.7889)" font-size="22.0" fill="#000">8</text><text transform="matrix(1.1483 0.0000 0.0000 1.0130 56.6368 874.7000)" font-size="22.0" fill="#000">0</text><text transform="matrix(1.2121 0.0000 0.0000 1.0130 56.5667 840.6556)" font-size="22.0" fill="#000">2</text><text transform="matrix(1.0909 0.0000 0.0000 1.0130 57.3000 806.6111)" font-size="22.0" fill="#000">4</text><text transform="matrix(1.1483 0.0000 0.0000 1.0130 56.6368 772.5667)" font-size="22.0" fill="#000">6</text><text transform="matrix(1.1483 0.0000 0.0000 1.0130 56.6368 738.5222)" font-size="22.0" fill="#000">8</text><text transform="matrix(1.2028 0.0000 0.0000 0.9740 61.4769 892.8000)" font-size="22.0" fill="#000">0.0</text><text transform="matrix(1.2028 0.0000 0.0000 0.9740 116.3569 892.8000)" font-size="22.0" fill="#000">0.2</text><text transform="matrix(1.2028 0.0000 0.0000 0.9740 171.2369 892.8000)" font-size="22.0" fill="#000">0.4</text><text transform="matrix(1.2028 0.0000 0.0000 0.9740 226.1169 892.8000)" font-size="22.0" fill="#000">0.6</text><text transform="matrix(1.2028 0.0000 0.0000 0.9740 280.9969 892.8000)" font-size="22.0" fill="#000">0.8</text><text transform="matrix(1.2028 0.0000 0.0000 0.9740 398.0769 892.8000)" font-size="22.0" fill="#000">0.2</text><text transform="matrix(1.2028 0.0000 0.0000 0.9740 452.8769 892.8000)" font-size="22.0" fill="#000">0.4</text><text transform="matrix(1.2028 0.0000 0.0000 0.9740 507.6769 892.8000)" font-size="22.0" fill="#000">0.6</text><text transform="matrix(1.2028 0.0000 0.0000 0.9740 562.4769 892.8000)" font-size="22.0" fill="#000">0.8</text><text transform="matrix(1.1948 0.0000 0.0000 1.0325 349.7714 892.9000)" font-size="22.0" fill="#000">.0</text><text transform="matrix(1.1948 0.0000 0.0000 1.0325 631.1714 892.9000)" font-size="22.0" fill="#000">.0</text><text transform="matrix(1.1717 0.0000 0.0000 1.0182 209.7667 926.8200)" font-size="22.0" fill="#000">ρ</text><text transform="matrix(1.1818 0.0000 0.0000 1.0303 490.9500 926.4667)" font-size="22.0" fill="#000">ρ</text><text transform="matrix(0.9930 0.0000 0.0000 1.0065 272.9538 578.6000)" font-size="22.0" fill="#000">t = 4.8s</text><text transform="matrix(0.9930 0.0000 0.0000 1.0065 272.7538 739.8000)" font-size="22.0" fill="#000">t = 4.8s</text><text transform="matrix(0.9804 0.0000 0.0000 1.0065 554.3608 578.6000)" font-size="22.0" fill="#000">t = 5.2s</text><text transform="matrix(0.9818 0.0000 0.0000 1.0000 554.0600 740.0000)" font-size="22.0" fill="#000">t = 5.2s</text><text transform="matrix(0.0000 -0.9587 1.0649 0.0000 20.9000 135.8818)" font-size="22.0" fill="#000">P</text><text transform="matrix(0.0000 -0.7308 0.8247 0.0000 24.8000 122.8059)" font-size="22.0" fill="#000">NB</text><text transform="matrix(0.0000 -1.1858 1.0622 0.0000 21.3263 84.2565)" font-size="22.0" fill="#000">(MW)</text><text transform="matrix(0.0000 -1.1010 1.0000 0.0000 35.0000 258.6111)" font-size="22.0" fill="#000">q</text><text transform="matrix(0.0000 -0.7427 0.8000 0.0000 38.5000 245.0254)" font-size="22.0" fill="#000">min</text><text transform="matrix(0.0000 -0.9565 1.1169 0.0000 34.8000 459.5522)" font-size="22.0" fill="#000">S</text><text transform="matrix(0.0000 -0.7701 0.7934 0.0000 38.4000 445.6706)" font-size="22.0" fill="#000">n</text><text transform="matrix(0.0000 -1.1252 1.0144 0.0000 34.3368 427.8566)" font-size="22.0" fill="#000">(10</text><text transform="matrix(0.0000 -0.7318 0.8247 0.0000 24.6000 392.2075)" font-size="22.0" fill="#000">15</text><text transform="matrix(0.0000 -1.0700 1.0574 0.0000 34.5474 374.3656)" font-size="22.0" fill="#000">n/s)</text><text transform="matrix(0.0000 -0.7172 0.7394 0.0000 677.7467 269.2833)" font-size="22.0" fill="#000">p</text><text transform="matrix(0.0000 -1.2076 1.0431 0.0000 673.8105 252.8926)" font-size="22.0" fill="#000">(MA)</text><text transform="matrix(0.0000 -1.1383 1.1039 0.0000 39.5000 672.9261)" font-size="22.0" fill="#000">T</text><text transform="matrix(0.0000 -0.6124 0.7521 0.0000 43.8000 658.0737)" font-size="22.0" fill="#000">e</text><text transform="matrix(0.0000 -1.0990 1.0478 0.0000 39.1895 641.0133)" font-size="22.0" fill="#000">(keV)</text><text transform="matrix(0.0000 -1.1700 1.1039 0.0000 39.5000 832.2435)" font-size="22.0" fill="#000">T</text><text transform="matrix(0.0000 -1.0909 0.7455 0.0000 43.3000 817.5000)" font-size="22.0" fill="#000">i</text><text transform="matrix(0.0000 -1.0768 1.0478 0.0000 39.1895 804.1767)" font-size="22.0" fill="#000">(keV)</text></g>
<line x1="45.65" y1="19.00" x2="45.65" y2="35.00" stroke="#000" stroke-width="2.1" />
<line x1="40.79" y1="34.35" x2="50.10" y2="34.35" stroke="#000" stroke-width="1.8900000000000001" />
<line x1="40.40" y1="21.19" x2="45.45" y2="19.60" stroke="#000" stroke-width="1.8900000000000001" />
<line x1="60.07" y1="416.90" x2="60.07" y2="432.30" stroke="#000" stroke-width="2.1" />
<line x1="54.66" y1="431.66" x2="65.04" y2="431.66" stroke="#000" stroke-width="1.8900000000000001" />
<line x1="54.22" y1="419.00" x2="59.87" y2="417.48" stroke="#000" stroke-width="1.8900000000000001" />
<line x1="639.48" y1="181.70" x2="639.48" y2="197.80" stroke="#000" stroke-width="2.1" />
<line x1="634.33" y1="197.16" x2="644.20" y2="197.16" stroke="#000" stroke-width="1.8900000000000001" />
<line x1="633.91" y1="183.91" x2="639.27" y2="182.30" stroke="#000" stroke-width="1.8900000000000001" />
<line x1="343.88" y1="877.30" x2="343.88" y2="892.60" stroke="#000" stroke-width="2.1" />
<line x1="338.64" y1="891.95" x2="348.70" y2="891.95" stroke="#000" stroke-width="1.8900000000000001" />
<line x1="338.21" y1="879.38" x2="343.69" y2="877.88" stroke="#000" stroke-width="1.8900000000000001" />
<line x1="625.28" y1="877.30" x2="625.28" y2="892.60" stroke="#000" stroke-width="2.1" />
<line x1="620.04" y1="891.95" x2="630.10" y2="891.95" stroke="#000" stroke-width="1.8900000000000001" />
<line x1="619.61" y1="879.38" x2="625.08" y2="877.88" stroke="#000" stroke-width="1.8900000000000001" />
<line x1="13.00" y1="96.10" x2="23.90" y2="96.10" stroke="#000" stroke-width="1.8" />
<line x1="13.00" y1="93.50" x2="13.00" y2="98.70" stroke="#000" stroke-width="1.8" />
<line x1="23.90" y1="93.50" x2="23.90" y2="98.70" stroke="#000" stroke-width="1.8" />
<line x1="658.00" y1="274.50" x2="673.40" y2="274.50" stroke="#000" stroke-width="2.1" />
<line x1="658.00" y1="270.70" x2="658.00" y2="278.30" stroke="#000" stroke-width="2.1" />
<line x1="673.40" y1="270.70" x2="673.40" y2="278.30" stroke="#000" stroke-width="2.1" />
<rect x="315.5" y="873" width="73.5" height="44" fill="none" stroke="#ebebeb" stroke-width="1"/>
</svg></body></html>
